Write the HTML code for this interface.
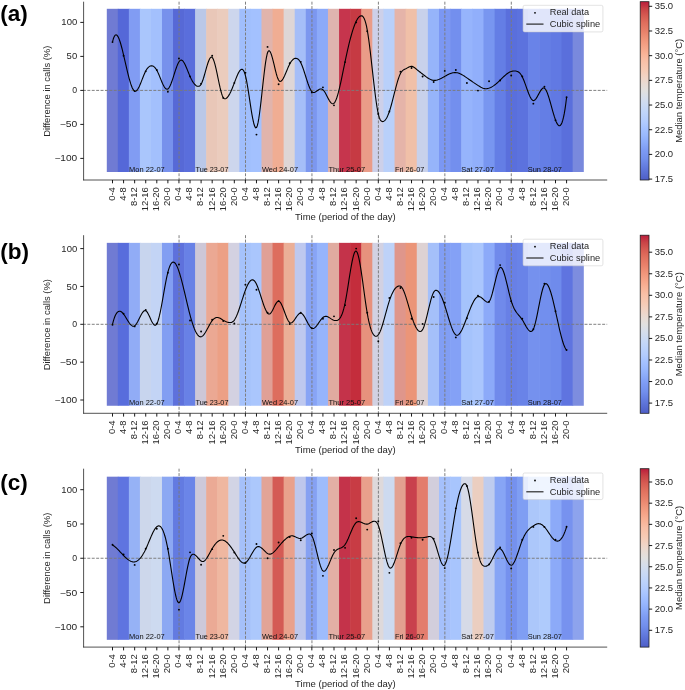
<!DOCTYPE html>
<html><head><meta charset="utf-8"><title>figure</title>
<style>
html,body{margin:0;padding:0;background:#fff;}
body{width:685px;height:690px;overflow:hidden;}
svg{display:block;font-family:'Liberation Sans', sans-serif;will-change:transform;}
</style></head><body>
<svg width="685" height="690" viewBox="0 0 685 690">
<rect width="685" height="690" fill="#fff"/>
<rect x="106.8" y="8.8" width="11.63" height="163.2" fill="#707bd3"/>
<rect x="117.83" y="8.8" width="11.63" height="163.2" fill="#5568d8"/>
<rect x="128.86" y="8.8" width="11.64" height="163.2" fill="#819cf3"/>
<rect x="139.9" y="8.8" width="11.64" height="163.2" fill="#aac6fc"/>
<rect x="150.94" y="8.8" width="11.64" height="163.2" fill="#a3c0fd"/>
<rect x="161.98" y="8.8" width="11.64" height="163.2" fill="#7791ec"/>
<rect x="173.02" y="8.8" width="11.65" height="163.2" fill="#5769d6"/>
<rect x="184.07" y="8.8" width="11.65" height="163.2" fill="#5a6edc"/>
<rect x="195.12" y="8.8" width="11.65" height="163.2" fill="#bac8e8"/>
<rect x="206.17" y="8.8" width="11.66" height="163.2" fill="#e9c7b8"/>
<rect x="217.23" y="8.8" width="11.66" height="163.2" fill="#ebccbd"/>
<rect x="228.29" y="8.8" width="11.66" height="163.2" fill="#cdd6ed"/>
<rect x="239.35" y="8.8" width="11.67" height="163.2" fill="#a0befc"/>
<rect x="250.42" y="8.8" width="11.67" height="163.2" fill="#a3c1fe"/>
<rect x="261.49" y="8.8" width="11.67" height="163.2" fill="#e1b4ac"/>
<rect x="272.56" y="8.8" width="11.67" height="163.2" fill="#f0ad93"/>
<rect x="283.63" y="8.8" width="11.68" height="163.2" fill="#ded6d6"/>
<rect x="294.71" y="8.8" width="11.68" height="163.2" fill="#a5bef8"/>
<rect x="305.79" y="8.8" width="11.68" height="163.2" fill="#7c97ef"/>
<rect x="316.88" y="8.8" width="11.69" height="163.2" fill="#8caaf9"/>
<rect x="327.96" y="8.8" width="11.69" height="163.2" fill="#dfb4af"/>
<rect x="339.05" y="8.8" width="11.69" height="163.2" fill="#c6354d"/>
<rect x="350.15" y="8.8" width="11.7" height="163.2" fill="#c63a43"/>
<rect x="361.24" y="8.8" width="11.7" height="163.2" fill="#ea9c88"/>
<rect x="372.34" y="8.8" width="11.7" height="163.2" fill="#cdd0e9"/>
<rect x="383.44" y="8.8" width="11.71" height="163.2" fill="#b9d0fa"/>
<rect x="394.55" y="8.8" width="11.71" height="163.2" fill="#e5b4a9"/>
<rect x="405.66" y="8.8" width="11.71" height="163.2" fill="#f0c0a8"/>
<rect x="416.77" y="8.8" width="11.71" height="163.2" fill="#c8d1eb"/>
<rect x="427.88" y="8.8" width="11.72" height="163.2" fill="#96b4fa"/>
<rect x="439" y="8.8" width="11.72" height="163.2" fill="#7b97f3"/>
<rect x="450.12" y="8.8" width="11.72" height="163.2" fill="#738fee"/>
<rect x="461.24" y="8.8" width="11.73" height="163.2" fill="#96b4fc"/>
<rect x="472.37" y="8.8" width="11.73" height="163.2" fill="#91affb"/>
<rect x="483.5" y="8.8" width="11.73" height="163.2" fill="#7896f0"/>
<rect x="494.63" y="8.8" width="11.74" height="163.2" fill="#647ee5"/>
<rect x="505.77" y="8.8" width="11.74" height="163.2" fill="#5a6fdc"/>
<rect x="516.9" y="8.8" width="11.74" height="163.2" fill="#5c72de"/>
<rect x="528.05" y="8.8" width="11.74" height="163.2" fill="#6983e8"/>
<rect x="539.19" y="8.8" width="11.75" height="163.2" fill="#647ee5"/>
<rect x="550.34" y="8.8" width="11.75" height="163.2" fill="#6179e3"/>
<rect x="561.49" y="8.8" width="11.75" height="163.2" fill="#5a6fdc"/>
<rect x="572.64" y="8.8" width="11.16" height="163.2" fill="#7989dd"/>
<g stroke="#7a7a7a" stroke-width="0.95" stroke-dasharray="2.95 1.45" fill="none">
<line x1="83.6" y1="90.4" x2="607.2" y2="90.4" stroke-dashoffset="0.65"/>
<line x1="179.05" y1="1.7" x2="179.05" y2="180"/>
<line x1="245.5" y1="1.7" x2="245.5" y2="180"/>
<line x1="311.95" y1="1.7" x2="311.95" y2="180"/>
<line x1="378.4" y1="1.7" x2="378.4" y2="180"/>
<line x1="444.85" y1="1.7" x2="444.85" y2="180"/>
<line x1="511.3" y1="1.7" x2="511.3" y2="180"/>
</g>
<path d="M112.5 41.85 L113.26 39.04 L114.02 37 L114.77 35.65 L115.53 34.96 L116.29 34.87 L117.05 35.34 L117.81 36.31 L118.56 37.74 L119.32 39.57 L120.08 41.76 L120.84 44.26 L121.6 47.01 L122.35 49.97 L123.11 53.08 L123.87 56.31 L124.63 59.59 L125.39 62.9 L126.14 66.2 L126.9 69.45 L127.66 72.61 L128.42 75.65 L129.18 78.53 L129.94 81.2 L130.69 83.64 L131.45 85.81 L132.21 87.67 L132.97 89.17 L133.73 90.29 L134.48 90.99 L135.24 91.23 L136 91.04 L136.76 90.47 L137.52 89.55 L138.27 88.35 L139.03 86.91 L139.79 85.27 L140.55 83.48 L141.31 81.59 L142.06 79.64 L142.82 77.69 L143.58 75.79 L144.34 73.97 L145.1 72.28 L145.85 70.78 L146.61 69.49 L147.37 68.42 L148.13 67.54 L148.89 66.86 L149.64 66.36 L150.4 66.03 L151.16 65.87 L151.92 65.86 L152.68 66.03 L153.43 66.37 L154.19 66.91 L154.95 67.63 L155.71 68.56 L156.47 69.7 L157.23 71.06 L157.98 72.62 L158.74 74.32 L159.5 76.13 L160.26 77.99 L161.02 79.86 L161.77 81.68 L162.53 83.42 L163.29 85.02 L164.05 86.43 L164.81 87.61 L165.56 88.51 L166.32 89.09 L167.08 89.29 L167.84 89.06 L168.6 88.38 L169.35 87.28 L170.11 85.83 L170.87 84.07 L171.63 82.07 L172.39 79.88 L173.14 77.56 L173.9 75.18 L174.66 72.79 L175.42 70.44 L176.18 68.2 L176.93 66.12 L177.69 64.27 L178.45 62.7 L179.21 61.46 L179.97 60.6 L180.72 60.15 L181.48 60.11 L182.24 60.47 L183 61.18 L183.76 62.21 L184.52 63.5 L185.27 65.01 L186.03 66.69 L186.79 68.48 L187.55 70.35 L188.31 72.25 L189.06 74.12 L189.82 75.93 L190.58 77.62 L191.34 79.18 L192.1 80.6 L192.85 81.88 L193.61 83 L194.37 83.98 L195.13 84.79 L195.89 85.44 L196.64 85.91 L197.4 86.21 L198.16 86.32 L198.92 86.24 L199.68 85.9 L200.43 85.22 L201.19 84.12 L201.95 82.55 L202.71 80.57 L203.47 78.28 L204.22 75.76 L204.98 73.1 L205.74 70.38 L206.5 67.7 L207.26 65.14 L208.01 62.78 L208.77 60.72 L209.53 59.04 L210.29 57.83 L211.05 57.18 L211.81 57.17 L212.56 57.88 L213.32 59.31 L214.08 61.36 L214.84 63.93 L215.6 66.92 L216.35 70.22 L217.11 73.74 L217.87 77.37 L218.63 81.01 L219.39 84.57 L220.14 87.94 L220.9 91.01 L221.66 93.7 L222.42 95.89 L223.18 97.49 L223.93 98.42 L224.69 98.79 L225.45 98.74 L226.21 98.4 L226.97 97.79 L227.72 96.96 L228.48 95.9 L229.24 94.65 L230 93.24 L230.76 91.67 L231.51 89.97 L232.27 88.17 L233.03 86.28 L233.79 84.33 L234.55 82.33 L235.3 80.33 L236.06 78.36 L236.82 76.47 L237.58 74.7 L238.34 73.11 L239.1 71.73 L239.85 70.62 L240.61 69.81 L241.37 69.36 L242.13 69.32 L242.89 69.74 L243.64 70.71 L244.4 72.29 L245.16 74.56 L245.92 77.59 L246.68 81.3 L247.43 85.55 L248.19 90.21 L248.95 95.13 L249.71 100.18 L250.47 105.2 L251.22 110.06 L251.98 114.61 L252.74 118.72 L253.5 122.24 L254.26 125.03 L255.01 126.94 L255.77 127.84 L256.53 127.52 L257.29 125.75 L258.05 122.64 L258.8 118.4 L259.56 113.22 L260.32 107.3 L261.08 100.85 L261.84 94.06 L262.59 87.14 L263.35 80.29 L264.11 73.7 L264.87 67.58 L265.63 62.13 L266.39 57.55 L267.14 54.03 L267.9 51.78 L268.66 50.8 L269.42 50.86 L270.18 51.77 L270.93 53.37 L271.69 55.54 L272.45 58.15 L273.21 61.08 L273.97 64.2 L274.72 67.39 L275.48 70.52 L276.24 73.48 L277 76.13 L277.76 78.34 L278.51 80.01 L279.27 81.02 L280.03 81.42 L280.79 81.3 L281.55 80.78 L282.3 79.92 L283.06 78.77 L283.82 77.38 L284.58 75.8 L285.34 74.09 L286.09 72.29 L286.85 70.44 L287.61 68.61 L288.37 66.84 L289.13 65.17 L289.88 63.67 L290.64 62.35 L291.4 61.23 L292.16 60.29 L292.92 59.54 L293.68 58.98 L294.43 58.59 L295.19 58.38 L295.95 58.34 L296.71 58.48 L297.47 58.79 L298.22 59.29 L298.98 60.01 L299.74 60.97 L300.5 62.2 L301.26 63.72 L302.01 65.5 L302.77 67.5 L303.53 69.68 L304.29 71.98 L305.05 74.36 L305.8 76.78 L306.56 79.18 L307.32 81.51 L308.08 83.74 L308.84 85.81 L309.59 87.67 L310.35 89.29 L311.11 90.6 L311.87 91.58 L312.63 92.17 L313.38 92.44 L314.14 92.43 L314.9 92.2 L315.66 91.8 L316.42 91.3 L317.17 90.76 L317.93 90.22 L318.69 89.73 L319.45 89.33 L320.21 89.06 L320.97 88.96 L321.72 89.05 L322.48 89.39 L323.24 90.01 L324 90.91 L324.76 92.02 L325.51 93.32 L326.27 94.72 L327.03 96.2 L327.79 97.68 L328.55 99.12 L329.3 100.46 L330.06 101.65 L330.82 102.63 L331.58 103.36 L332.34 103.77 L333.09 103.82 L333.85 103.45 L334.61 102.61 L335.37 101.31 L336.13 99.6 L336.88 97.52 L337.64 95.1 L338.4 92.38 L339.16 89.4 L339.92 86.2 L340.67 82.81 L341.43 79.29 L342.19 75.66 L342.95 71.96 L343.71 68.23 L344.46 64.52 L345.22 60.86 L345.98 57.28 L346.74 53.79 L347.5 50.4 L348.26 47.11 L349.01 43.95 L349.77 40.9 L350.53 37.99 L351.29 35.23 L352.05 32.61 L352.8 30.15 L353.56 27.85 L354.32 25.73 L355.08 23.79 L355.84 22.05 L356.59 20.5 L357.35 19.16 L358.11 18.02 L358.87 17.11 L359.63 16.42 L360.38 15.95 L361.14 15.73 L361.9 15.83 L362.66 16.28 L363.42 17.15 L364.17 18.5 L364.93 20.38 L365.69 22.85 L366.45 25.96 L367.21 29.78 L367.96 34.33 L368.72 39.53 L369.48 45.26 L370.24 51.43 L371 57.9 L371.75 64.58 L372.51 71.34 L373.27 78.07 L374.03 84.67 L374.79 91.02 L375.55 97.01 L376.3 102.52 L377.06 107.44 L377.82 111.66 L378.58 115.08 L379.34 117.65 L380.09 119.48 L380.85 120.68 L381.61 121.34 L382.37 121.58 L383.13 121.5 L383.88 121.17 L384.64 120.6 L385.4 119.79 L386.16 118.73 L386.92 117.42 L387.67 115.87 L388.43 114.07 L389.19 112.02 L389.95 109.72 L390.71 107.2 L391.46 104.49 L392.22 101.66 L392.98 98.72 L393.74 95.73 L394.5 92.73 L395.25 89.76 L396.01 86.87 L396.77 84.08 L397.53 81.45 L398.29 79.02 L399.04 76.83 L399.8 74.91 L400.56 73.33 L401.32 72.08 L402.08 71.12 L402.84 70.39 L403.59 69.85 L404.35 69.42 L405.11 69.06 L405.87 68.7 L406.63 68.3 L407.38 67.86 L408.14 67.42 L408.9 67.01 L409.66 66.67 L410.42 66.43 L411.17 66.32 L411.93 66.38 L412.69 66.6 L413.45 66.96 L414.21 67.43 L414.96 67.98 L415.72 68.59 L416.48 69.23 L417.24 69.88 L418 70.5 L418.75 71.11 L419.51 71.71 L420.27 72.29 L421.03 72.88 L421.79 73.46 L422.54 74.04 L423.3 74.62 L424.06 75.21 L424.82 75.79 L425.58 76.36 L426.33 76.91 L427.09 77.44 L427.85 77.94 L428.61 78.42 L429.37 78.85 L430.13 79.24 L430.88 79.58 L431.64 79.87 L432.4 80.1 L433.16 80.26 L433.92 80.36 L434.67 80.38 L435.43 80.34 L436.19 80.23 L436.95 80.07 L437.71 79.85 L438.46 79.59 L439.22 79.3 L439.98 78.96 L440.74 78.6 L441.5 78.21 L442.25 77.8 L443.01 77.38 L443.77 76.95 L444.53 76.52 L445.29 76.09 L446.04 75.66 L446.8 75.25 L447.56 74.85 L448.32 74.47 L449.08 74.12 L449.83 73.79 L450.59 73.49 L451.35 73.22 L452.11 73 L452.87 72.81 L453.62 72.68 L454.38 72.59 L455.14 72.56 L455.9 72.59 L456.66 72.68 L457.42 72.83 L458.17 73.03 L458.93 73.28 L459.69 73.58 L460.45 73.92 L461.21 74.29 L461.96 74.7 L462.72 75.14 L463.48 75.6 L464.24 76.08 L465 76.59 L465.75 77.1 L466.51 77.62 L467.27 78.14 L468.03 78.67 L468.79 79.2 L469.54 79.73 L470.3 80.26 L471.06 80.79 L471.82 81.31 L472.58 81.83 L473.33 82.36 L474.09 82.87 L474.85 83.38 L475.61 83.89 L476.37 84.39 L477.12 84.89 L477.88 85.38 L478.64 85.86 L479.4 86.32 L480.16 86.77 L480.91 87.18 L481.67 87.56 L482.43 87.9 L483.19 88.19 L483.95 88.42 L484.71 88.59 L485.46 88.68 L486.22 88.7 L486.98 88.65 L487.74 88.52 L488.5 88.33 L489.25 88.08 L490.01 87.79 L490.77 87.44 L491.53 87.05 L492.29 86.61 L493.04 86.14 L493.8 85.62 L494.56 85.07 L495.32 84.49 L496.08 83.88 L496.83 83.24 L497.59 82.57 L498.35 81.88 L499.11 81.18 L499.87 80.45 L500.62 79.71 L501.38 78.96 L502.14 78.21 L502.9 77.47 L503.66 76.73 L504.41 76.01 L505.17 75.32 L505.93 74.66 L506.69 74.03 L507.45 73.45 L508.2 72.91 L508.96 72.44 L509.72 72.02 L510.48 71.68 L511.24 71.42 L512 71.23 L512.75 71.11 L513.51 71.04 L514.27 71 L515.03 70.99 L515.79 71.05 L516.54 71.19 L517.3 71.42 L518.06 71.77 L518.82 72.26 L519.58 72.91 L520.33 73.74 L521.09 74.76 L521.85 76 L522.61 77.48 L523.37 79.18 L524.12 81.06 L524.88 83.08 L525.64 85.18 L526.4 87.32 L527.16 89.45 L527.91 91.52 L528.67 93.5 L529.43 95.33 L530.19 96.96 L530.95 98.34 L531.7 99.44 L532.46 100.2 L533.22 100.58 L533.98 100.53 L534.74 100.1 L535.49 99.35 L536.25 98.34 L537.01 97.13 L537.77 95.79 L538.53 94.38 L539.29 92.96 L540.04 91.61 L540.8 90.38 L541.56 89.33 L542.32 88.53 L543.08 88.05 L543.83 87.94 L544.59 88.27 L545.35 89.07 L546.11 90.3 L546.87 91.9 L547.62 93.82 L548.38 96.01 L549.14 98.42 L549.9 100.99 L550.66 103.67 L551.41 106.41 L552.17 109.16 L552.93 111.86 L553.69 114.46 L554.45 116.92 L555.2 119.17 L555.96 121.16 L556.72 122.86 L557.48 124.2 L558.24 125.16 L558.99 125.68 L559.75 125.72 L560.51 125.23 L561.27 124.18 L562.03 122.52 L562.78 120.2 L563.54 117.18 L564.3 113.41 L565.06 108.85 L565.82 103.47 L566.58 97.2" fill="none" stroke="#000" stroke-width="1.1" stroke-linejoin="round" stroke-linecap="butt"/>
<g fill="#000">
<circle cx="112.5" cy="42.12" r="0.95"/>
<circle cx="123.58" cy="55.72" r="0.95"/>
<circle cx="134.65" cy="91.08" r="0.95"/>
<circle cx="145.72" cy="71.36" r="0.95"/>
<circle cx="156.8" cy="70" r="0.95"/>
<circle cx="167.88" cy="91.76" r="0.95"/>
<circle cx="178.95" cy="58.44" r="0.95"/>
<circle cx="190.02" cy="76.39" r="0.95"/>
<circle cx="201.1" cy="83.6" r="0.95"/>
<circle cx="212.18" cy="55.72" r="0.95"/>
<circle cx="223.25" cy="97.88" r="0.95"/>
<circle cx="234.32" cy="82.92" r="0.95"/>
<circle cx="245.4" cy="72.72" r="0.95"/>
<circle cx="256.48" cy="134.6" r="0.95"/>
<circle cx="267.55" cy="46.88" r="0.95"/>
<circle cx="278.62" cy="84.28" r="0.95"/>
<circle cx="289.7" cy="63.2" r="0.95"/>
<circle cx="300.77" cy="61.84" r="0.95"/>
<circle cx="311.85" cy="92.44" r="0.95"/>
<circle cx="322.92" cy="87.34" r="0.95"/>
<circle cx="334" cy="105.36" r="0.95"/>
<circle cx="345.07" cy="62.11" r="0.95"/>
<circle cx="356.15" cy="22.4" r="0.95"/>
<circle cx="367.23" cy="31.24" r="0.95"/>
<circle cx="378.3" cy="113.93" r="0.95"/>
<circle cx="389.38" cy="111.48" r="0.95"/>
<circle cx="400.45" cy="71.63" r="0.95"/>
<circle cx="411.52" cy="67.96" r="0.95"/>
<circle cx="422.6" cy="76.53" r="0.95"/>
<circle cx="433.67" cy="82.04" r="0.95"/>
<circle cx="444.75" cy="70.88" r="0.95"/>
<circle cx="455.82" cy="70.07" r="0.95"/>
<circle cx="466.9" cy="82.99" r="0.95"/>
<circle cx="477.97" cy="90.6" r="0.95"/>
<circle cx="489.05" cy="81.29" r="0.95"/>
<circle cx="500.12" cy="80.54" r="0.95"/>
<circle cx="511.2" cy="75.44" r="0.95"/>
<circle cx="522.27" cy="76.39" r="0.95"/>
<circle cx="533.35" cy="103.66" r="0.95"/>
<circle cx="544.42" cy="86.8" r="0.95"/>
<circle cx="555.5" cy="120.32" r="0.95"/>
<circle cx="566.58" cy="97.2" r="0.95"/>
</g>
<text x="129.11" y="171.5" font-size="7" fill="#111" text-anchor="start" textLength="35.56" lengthAdjust="spacingAndGlyphs">Mon 22-07</text>
<text x="195.56" y="171.5" font-size="7" fill="#111" text-anchor="start" textLength="32.89" lengthAdjust="spacingAndGlyphs">Tue 23-07</text>
<text x="262.01" y="171.5" font-size="7" fill="#111" text-anchor="start" textLength="36.04" lengthAdjust="spacingAndGlyphs">Wed 24-07</text>
<text x="328.46" y="171.5" font-size="7" fill="#111" text-anchor="start" textLength="36.77" lengthAdjust="spacingAndGlyphs">Thur 25-07</text>
<text x="394.91" y="171.5" font-size="7" fill="#111" text-anchor="start" textLength="29.45" lengthAdjust="spacingAndGlyphs">Fri 26-07</text>
<text x="461.36" y="171.5" font-size="7" fill="#111" text-anchor="start" textLength="32.44" lengthAdjust="spacingAndGlyphs">Sat 27-07</text>
<text x="527.81" y="171.5" font-size="7" fill="#111" text-anchor="start" textLength="34.19" lengthAdjust="spacingAndGlyphs">Sun 28-07</text>
<g stroke="#1a1a1a" stroke-width="0.75" fill="none">
<line x1="83.6" y1="1.7" x2="83.6" y2="180.35"/>
<line x1="83.25" y1="180" x2="607.2" y2="180"/>
</g>
<g stroke="#000" stroke-width="0.9" fill="none">
<line x1="80.3" y1="158.4" x2="83.6" y2="158.4"/>
<line x1="80.3" y1="124.4" x2="83.6" y2="124.4"/>
<line x1="80.3" y1="90.4" x2="83.6" y2="90.4"/>
<line x1="80.3" y1="56.4" x2="83.6" y2="56.4"/>
<line x1="80.3" y1="22.4" x2="83.6" y2="22.4"/>
<line x1="112.5" y1="180" x2="112.5" y2="183.3"/>
<line x1="123.58" y1="180" x2="123.58" y2="183.3"/>
<line x1="134.65" y1="180" x2="134.65" y2="183.3"/>
<line x1="145.72" y1="180" x2="145.72" y2="183.3"/>
<line x1="156.8" y1="180" x2="156.8" y2="183.3"/>
<line x1="167.88" y1="180" x2="167.88" y2="183.3"/>
<line x1="178.95" y1="180" x2="178.95" y2="183.3"/>
<line x1="190.02" y1="180" x2="190.02" y2="183.3"/>
<line x1="201.1" y1="180" x2="201.1" y2="183.3"/>
<line x1="212.18" y1="180" x2="212.18" y2="183.3"/>
<line x1="223.25" y1="180" x2="223.25" y2="183.3"/>
<line x1="234.32" y1="180" x2="234.32" y2="183.3"/>
<line x1="245.4" y1="180" x2="245.4" y2="183.3"/>
<line x1="256.48" y1="180" x2="256.48" y2="183.3"/>
<line x1="267.55" y1="180" x2="267.55" y2="183.3"/>
<line x1="278.62" y1="180" x2="278.62" y2="183.3"/>
<line x1="289.7" y1="180" x2="289.7" y2="183.3"/>
<line x1="300.77" y1="180" x2="300.77" y2="183.3"/>
<line x1="311.85" y1="180" x2="311.85" y2="183.3"/>
<line x1="322.92" y1="180" x2="322.92" y2="183.3"/>
<line x1="334" y1="180" x2="334" y2="183.3"/>
<line x1="345.07" y1="180" x2="345.07" y2="183.3"/>
<line x1="356.15" y1="180" x2="356.15" y2="183.3"/>
<line x1="367.23" y1="180" x2="367.23" y2="183.3"/>
<line x1="378.3" y1="180" x2="378.3" y2="183.3"/>
<line x1="389.38" y1="180" x2="389.38" y2="183.3"/>
<line x1="400.45" y1="180" x2="400.45" y2="183.3"/>
<line x1="411.52" y1="180" x2="411.52" y2="183.3"/>
<line x1="422.6" y1="180" x2="422.6" y2="183.3"/>
<line x1="433.67" y1="180" x2="433.67" y2="183.3"/>
<line x1="444.75" y1="180" x2="444.75" y2="183.3"/>
<line x1="455.82" y1="180" x2="455.82" y2="183.3"/>
<line x1="466.9" y1="180" x2="466.9" y2="183.3"/>
<line x1="477.97" y1="180" x2="477.97" y2="183.3"/>
<line x1="489.05" y1="180" x2="489.05" y2="183.3"/>
<line x1="500.12" y1="180" x2="500.12" y2="183.3"/>
<line x1="511.2" y1="180" x2="511.2" y2="183.3"/>
<line x1="522.27" y1="180" x2="522.27" y2="183.3"/>
<line x1="533.35" y1="180" x2="533.35" y2="183.3"/>
<line x1="544.42" y1="180" x2="544.42" y2="183.3"/>
<line x1="555.5" y1="180" x2="555.5" y2="183.3"/>
<line x1="566.58" y1="180" x2="566.58" y2="183.3"/>
</g>
<text x="77.2" y="161.45" font-size="8.72" fill="#262626" text-anchor="end" textLength="22.8" lengthAdjust="spacingAndGlyphs">−100</text>
<text x="77.2" y="127.45" font-size="8.72" fill="#262626" text-anchor="end" textLength="17.52" lengthAdjust="spacingAndGlyphs">−50</text>
<text x="77.2" y="93.45" font-size="8.72" fill="#262626" text-anchor="end">0</text>
<text x="77.2" y="59.45" font-size="8.72" fill="#262626" text-anchor="end" textLength="10.56" lengthAdjust="spacingAndGlyphs">50</text>
<text x="77.2" y="25.45" font-size="8.72" fill="#262626" text-anchor="end" textLength="15.84" lengthAdjust="spacingAndGlyphs">100</text>
<text transform="translate(114.85 187.2) rotate(-90)" font-size="8.72" fill="#262626" text-anchor="end" textLength="13.56" lengthAdjust="spacingAndGlyphs">0-4</text>
<text transform="translate(125.92 187.2) rotate(-90)" font-size="8.72" fill="#262626" text-anchor="end" textLength="13.56" lengthAdjust="spacingAndGlyphs">4-8</text>
<text transform="translate(137 187.2) rotate(-90)" font-size="8.72" fill="#262626" text-anchor="end" textLength="18.84" lengthAdjust="spacingAndGlyphs">8-12</text>
<text transform="translate(148.07 187.2) rotate(-90)" font-size="8.72" fill="#262626" text-anchor="end" textLength="24.12" lengthAdjust="spacingAndGlyphs">12-16</text>
<text transform="translate(159.15 187.2) rotate(-90)" font-size="8.72" fill="#262626" text-anchor="end" textLength="24.12" lengthAdjust="spacingAndGlyphs">16-20</text>
<text transform="translate(170.22 187.2) rotate(-90)" font-size="8.72" fill="#262626" text-anchor="end" textLength="18.84" lengthAdjust="spacingAndGlyphs">20-0</text>
<text transform="translate(181.3 187.2) rotate(-90)" font-size="8.72" fill="#262626" text-anchor="end" textLength="13.56" lengthAdjust="spacingAndGlyphs">0-4</text>
<text transform="translate(192.37 187.2) rotate(-90)" font-size="8.72" fill="#262626" text-anchor="end" textLength="13.56" lengthAdjust="spacingAndGlyphs">4-8</text>
<text transform="translate(203.45 187.2) rotate(-90)" font-size="8.72" fill="#262626" text-anchor="end" textLength="18.84" lengthAdjust="spacingAndGlyphs">8-12</text>
<text transform="translate(214.53 187.2) rotate(-90)" font-size="8.72" fill="#262626" text-anchor="end" textLength="24.12" lengthAdjust="spacingAndGlyphs">12-16</text>
<text transform="translate(225.6 187.2) rotate(-90)" font-size="8.72" fill="#262626" text-anchor="end" textLength="24.12" lengthAdjust="spacingAndGlyphs">16-20</text>
<text transform="translate(236.67 187.2) rotate(-90)" font-size="8.72" fill="#262626" text-anchor="end" textLength="18.84" lengthAdjust="spacingAndGlyphs">20-0</text>
<text transform="translate(247.75 187.2) rotate(-90)" font-size="8.72" fill="#262626" text-anchor="end" textLength="13.56" lengthAdjust="spacingAndGlyphs">0-4</text>
<text transform="translate(258.83 187.2) rotate(-90)" font-size="8.72" fill="#262626" text-anchor="end" textLength="13.56" lengthAdjust="spacingAndGlyphs">4-8</text>
<text transform="translate(269.9 187.2) rotate(-90)" font-size="8.72" fill="#262626" text-anchor="end" textLength="18.84" lengthAdjust="spacingAndGlyphs">8-12</text>
<text transform="translate(280.98 187.2) rotate(-90)" font-size="8.72" fill="#262626" text-anchor="end" textLength="24.12" lengthAdjust="spacingAndGlyphs">12-16</text>
<text transform="translate(292.05 187.2) rotate(-90)" font-size="8.72" fill="#262626" text-anchor="end" textLength="24.12" lengthAdjust="spacingAndGlyphs">16-20</text>
<text transform="translate(303.12 187.2) rotate(-90)" font-size="8.72" fill="#262626" text-anchor="end" textLength="18.84" lengthAdjust="spacingAndGlyphs">20-0</text>
<text transform="translate(314.2 187.2) rotate(-90)" font-size="8.72" fill="#262626" text-anchor="end" textLength="13.56" lengthAdjust="spacingAndGlyphs">0-4</text>
<text transform="translate(325.27 187.2) rotate(-90)" font-size="8.72" fill="#262626" text-anchor="end" textLength="13.56" lengthAdjust="spacingAndGlyphs">4-8</text>
<text transform="translate(336.35 187.2) rotate(-90)" font-size="8.72" fill="#262626" text-anchor="end" textLength="18.84" lengthAdjust="spacingAndGlyphs">8-12</text>
<text transform="translate(347.43 187.2) rotate(-90)" font-size="8.72" fill="#262626" text-anchor="end" textLength="24.12" lengthAdjust="spacingAndGlyphs">12-16</text>
<text transform="translate(358.5 187.2) rotate(-90)" font-size="8.72" fill="#262626" text-anchor="end" textLength="24.12" lengthAdjust="spacingAndGlyphs">16-20</text>
<text transform="translate(369.58 187.2) rotate(-90)" font-size="8.72" fill="#262626" text-anchor="end" textLength="18.84" lengthAdjust="spacingAndGlyphs">20-0</text>
<text transform="translate(380.65 187.2) rotate(-90)" font-size="8.72" fill="#262626" text-anchor="end" textLength="13.56" lengthAdjust="spacingAndGlyphs">0-4</text>
<text transform="translate(391.73 187.2) rotate(-90)" font-size="8.72" fill="#262626" text-anchor="end" textLength="13.56" lengthAdjust="spacingAndGlyphs">4-8</text>
<text transform="translate(402.8 187.2) rotate(-90)" font-size="8.72" fill="#262626" text-anchor="end" textLength="18.84" lengthAdjust="spacingAndGlyphs">8-12</text>
<text transform="translate(413.88 187.2) rotate(-90)" font-size="8.72" fill="#262626" text-anchor="end" textLength="24.12" lengthAdjust="spacingAndGlyphs">12-16</text>
<text transform="translate(424.95 187.2) rotate(-90)" font-size="8.72" fill="#262626" text-anchor="end" textLength="24.12" lengthAdjust="spacingAndGlyphs">16-20</text>
<text transform="translate(436.02 187.2) rotate(-90)" font-size="8.72" fill="#262626" text-anchor="end" textLength="18.84" lengthAdjust="spacingAndGlyphs">20-0</text>
<text transform="translate(447.1 187.2) rotate(-90)" font-size="8.72" fill="#262626" text-anchor="end" textLength="13.56" lengthAdjust="spacingAndGlyphs">0-4</text>
<text transform="translate(458.18 187.2) rotate(-90)" font-size="8.72" fill="#262626" text-anchor="end" textLength="13.56" lengthAdjust="spacingAndGlyphs">4-8</text>
<text transform="translate(469.25 187.2) rotate(-90)" font-size="8.72" fill="#262626" text-anchor="end" textLength="18.84" lengthAdjust="spacingAndGlyphs">8-12</text>
<text transform="translate(480.32 187.2) rotate(-90)" font-size="8.72" fill="#262626" text-anchor="end" textLength="24.12" lengthAdjust="spacingAndGlyphs">12-16</text>
<text transform="translate(491.4 187.2) rotate(-90)" font-size="8.72" fill="#262626" text-anchor="end" textLength="24.12" lengthAdjust="spacingAndGlyphs">16-20</text>
<text transform="translate(502.48 187.2) rotate(-90)" font-size="8.72" fill="#262626" text-anchor="end" textLength="18.84" lengthAdjust="spacingAndGlyphs">20-0</text>
<text transform="translate(513.55 187.2) rotate(-90)" font-size="8.72" fill="#262626" text-anchor="end" textLength="13.56" lengthAdjust="spacingAndGlyphs">0-4</text>
<text transform="translate(524.62 187.2) rotate(-90)" font-size="8.72" fill="#262626" text-anchor="end" textLength="13.56" lengthAdjust="spacingAndGlyphs">4-8</text>
<text transform="translate(535.7 187.2) rotate(-90)" font-size="8.72" fill="#262626" text-anchor="end" textLength="18.84" lengthAdjust="spacingAndGlyphs">8-12</text>
<text transform="translate(546.77 187.2) rotate(-90)" font-size="8.72" fill="#262626" text-anchor="end" textLength="24.12" lengthAdjust="spacingAndGlyphs">12-16</text>
<text transform="translate(557.85 187.2) rotate(-90)" font-size="8.72" fill="#262626" text-anchor="end" textLength="24.12" lengthAdjust="spacingAndGlyphs">16-20</text>
<text transform="translate(568.93 187.2) rotate(-90)" font-size="8.72" fill="#262626" text-anchor="end" textLength="18.84" lengthAdjust="spacingAndGlyphs">20-0</text>
<text x="345.4" y="219.8" font-size="8.72" fill="#262626" text-anchor="middle" textLength="100.67" lengthAdjust="spacingAndGlyphs">Time (period of the day)</text>
<text transform="translate(49.9 91.25) rotate(-90)" font-size="8.72" fill="#262626" text-anchor="middle" textLength="91.22" lengthAdjust="spacingAndGlyphs">Difference in calls (%)</text>
<rect x="523.1" y="5.3" width="79.8" height="26.6" rx="1.6" ry="1.6" fill="#fff" fill-opacity="0.8" stroke="#cccccc" stroke-opacity="0.8" stroke-width="0.7"/>
<circle cx="535" cy="12.8" r="0.9" fill="#000"/>
<line x1="526.3" y1="24.1" x2="543.5" y2="24.1" stroke="#222" stroke-width="1.15"/>
<text x="549.8" y="15.3" font-size="8.72" fill="#262626" text-anchor="start" textLength="39.23" lengthAdjust="spacingAndGlyphs">Real data</text>
<text x="549.8" y="27" font-size="8.72" fill="#262626" text-anchor="start" textLength="50.4" lengthAdjust="spacingAndGlyphs">Cubic spline</text>
<defs><linearGradient id="ga" x1="0" y1="1" x2="0" y2="0"><stop offset="0" stop-color="#4e5ec6"/><stop offset="0.04" stop-color="#596ed4"/><stop offset="0.08" stop-color="#657ee1"/><stop offset="0.12" stop-color="#728fec"/><stop offset="0.17" stop-color="#7e9cf4"/><stop offset="0.21" stop-color="#8babfa"/><stop offset="0.25" stop-color="#99b8fe"/><stop offset="0.29" stop-color="#a5c2ff"/><stop offset="0.33" stop-color="#b3ccfd"/><stop offset="0.38" stop-color="#c0d5f9"/><stop offset="0.42" stop-color="#cbdaf3"/><stop offset="0.46" stop-color="#d6deeb"/><stop offset="0.5" stop-color="#e1e0df"/><stop offset="0.54" stop-color="#e9dbd3"/><stop offset="0.58" stop-color="#f1d3c4"/><stop offset="0.62" stop-color="#f6cab4"/><stop offset="0.67" stop-color="#f8bfa6"/><stop offset="0.71" stop-color="#f8b296"/><stop offset="0.75" stop-color="#f5a387"/><stop offset="0.79" stop-color="#f09479"/><stop offset="0.83" stop-color="#e9826b"/><stop offset="0.88" stop-color="#e06f5d"/><stop offset="0.92" stop-color="#d65b52"/><stop offset="0.96" stop-color="#c94346"/><stop offset="1" stop-color="#bb1d3c"/></linearGradient></defs>
<rect x="640.2" y="1.7" width="8.8" height="178.3" fill="url(#ga)" stroke="#1a1a1a" stroke-width="0.75"/>
<g stroke="#000" stroke-width="0.9">
<line x1="649" y1="179.1" x2="652.2" y2="179.1"/>
<line x1="649" y1="154.41" x2="652.2" y2="154.41"/>
<line x1="649" y1="129.73" x2="652.2" y2="129.73"/>
<line x1="649" y1="105.04" x2="652.2" y2="105.04"/>
<line x1="649" y1="80.36" x2="652.2" y2="80.36"/>
<line x1="649" y1="55.67" x2="652.2" y2="55.67"/>
<line x1="649" y1="30.99" x2="652.2" y2="30.99"/>
<line x1="649" y1="6.3" x2="652.2" y2="6.3"/>
</g>
<text x="654.7" y="182.15" font-size="8.72" fill="#262626" text-anchor="start" textLength="18.48" lengthAdjust="spacingAndGlyphs">17.5</text>
<text x="654.7" y="157.46" font-size="8.72" fill="#262626" text-anchor="start" textLength="18.48" lengthAdjust="spacingAndGlyphs">20.0</text>
<text x="654.7" y="132.78" font-size="8.72" fill="#262626" text-anchor="start" textLength="18.48" lengthAdjust="spacingAndGlyphs">22.5</text>
<text x="654.7" y="108.09" font-size="8.72" fill="#262626" text-anchor="start" textLength="18.48" lengthAdjust="spacingAndGlyphs">25.0</text>
<text x="654.7" y="83.41" font-size="8.72" fill="#262626" text-anchor="start" textLength="18.48" lengthAdjust="spacingAndGlyphs">27.5</text>
<text x="654.7" y="58.72" font-size="8.72" fill="#262626" text-anchor="start" textLength="18.48" lengthAdjust="spacingAndGlyphs">30.0</text>
<text x="654.7" y="34.04" font-size="8.72" fill="#262626" text-anchor="start" textLength="18.48" lengthAdjust="spacingAndGlyphs">32.5</text>
<text x="654.7" y="9.35" font-size="8.72" fill="#262626" text-anchor="start" textLength="18.48" lengthAdjust="spacingAndGlyphs">35.0</text>
<text transform="translate(682.2 90.85) rotate(-90)" font-size="8.72" fill="#262626" text-anchor="middle" textLength="104.06" lengthAdjust="spacingAndGlyphs">Median temperature (°C)</text>
<text font-size="22.5" font-weight="bold" fill="#000" x="0.2" y="21">(a)</text>
<rect x="106.8" y="242.85" width="11.63" height="162.91" fill="#707bd3"/>
<rect x="117.83" y="242.85" width="11.63" height="162.91" fill="#586ddc"/>
<rect x="128.86" y="242.85" width="11.64" height="162.91" fill="#91acf6"/>
<rect x="139.9" y="242.85" width="11.64" height="162.91" fill="#c8d5ee"/>
<rect x="150.94" y="242.85" width="11.64" height="162.91" fill="#c3d4f5"/>
<rect x="161.98" y="242.85" width="11.64" height="162.91" fill="#829ef2"/>
<rect x="173.02" y="242.85" width="11.65" height="162.91" fill="#5e71dc"/>
<rect x="184.07" y="242.85" width="11.65" height="162.91" fill="#6881e6"/>
<rect x="195.12" y="242.85" width="11.65" height="162.91" fill="#cdc7d7"/>
<rect x="206.17" y="242.85" width="11.66" height="162.91" fill="#eba893"/>
<rect x="217.23" y="242.85" width="11.66" height="162.91" fill="#eca085"/>
<rect x="228.29" y="242.85" width="11.66" height="162.91" fill="#d3d1e1"/>
<rect x="239.35" y="242.85" width="11.67" height="162.91" fill="#a5c2fb"/>
<rect x="250.42" y="242.85" width="11.67" height="162.91" fill="#aac6fd"/>
<rect x="261.49" y="242.85" width="11.67" height="162.91" fill="#e0a096"/>
<rect x="272.56" y="242.85" width="11.67" height="162.91" fill="#dd6e5e"/>
<rect x="283.63" y="242.85" width="11.68" height="162.91" fill="#ebaf97"/>
<rect x="294.71" y="242.85" width="11.68" height="162.91" fill="#bec8ef"/>
<rect x="305.79" y="242.85" width="11.68" height="162.91" fill="#88a4f5"/>
<rect x="316.88" y="242.85" width="11.69" height="162.91" fill="#96b4fb"/>
<rect x="327.96" y="242.85" width="11.69" height="162.91" fill="#e0aba0"/>
<rect x="339.05" y="242.85" width="11.69" height="162.91" fill="#c4334a"/>
<rect x="350.15" y="242.85" width="11.7" height="162.91" fill="#c42d3c"/>
<rect x="361.24" y="242.85" width="11.7" height="162.91" fill="#e7917d"/>
<rect x="372.34" y="242.85" width="11.7" height="162.91" fill="#d2d1e2"/>
<rect x="383.44" y="242.85" width="11.71" height="162.91" fill="#bed2f8"/>
<rect x="394.55" y="242.85" width="11.71" height="162.91" fill="#df968b"/>
<rect x="405.66" y="242.85" width="11.71" height="162.91" fill="#eb9578"/>
<rect x="416.77" y="242.85" width="11.71" height="162.91" fill="#ded2d3"/>
<rect x="427.88" y="242.85" width="11.72" height="162.91" fill="#a5c0fa"/>
<rect x="439" y="242.85" width="11.72" height="162.91" fill="#819ef4"/>
<rect x="450.12" y="242.85" width="11.72" height="162.91" fill="#84a1f6"/>
<rect x="461.24" y="242.85" width="11.73" height="162.91" fill="#a5c3fc"/>
<rect x="472.37" y="242.85" width="11.73" height="162.91" fill="#aac6fd"/>
<rect x="483.5" y="242.85" width="11.73" height="162.91" fill="#8caaf9"/>
<rect x="494.63" y="242.85" width="11.74" height="162.91" fill="#708aeb"/>
<rect x="505.77" y="242.85" width="11.74" height="162.91" fill="#6880e6"/>
<rect x="516.9" y="242.85" width="11.74" height="162.91" fill="#6983e8"/>
<rect x="528.05" y="242.85" width="11.74" height="162.91" fill="#7591ee"/>
<rect x="539.19" y="242.85" width="11.75" height="162.91" fill="#728fee"/>
<rect x="550.34" y="242.85" width="11.75" height="162.91" fill="#6f8bec"/>
<rect x="561.49" y="242.85" width="11.75" height="162.91" fill="#5f74e0"/>
<rect x="572.64" y="242.85" width="11.16" height="162.91" fill="#7d8ddf"/>
<g stroke="#7a7a7a" stroke-width="0.95" stroke-dasharray="2.95 1.45" fill="none">
<line x1="83.6" y1="324.3" x2="607.2" y2="324.3" stroke-dashoffset="0.65"/>
<line x1="179.05" y1="235.2" x2="179.05" y2="413.3"/>
<line x1="245.5" y1="235.2" x2="245.5" y2="413.3"/>
<line x1="311.95" y1="235.2" x2="311.95" y2="413.3"/>
<line x1="378.4" y1="235.2" x2="378.4" y2="413.3"/>
<line x1="444.85" y1="235.2" x2="444.85" y2="413.3"/>
<line x1="511.3" y1="235.2" x2="511.3" y2="413.3"/>
</g>
<path d="M112.5 324.3 L113.26 321.4 L114.02 318.9 L114.77 316.8 L115.53 315.07 L116.29 313.68 L117.05 312.62 L117.81 311.87 L118.56 311.41 L119.32 311.21 L120.08 311.26 L120.84 311.54 L121.6 312.02 L122.35 312.68 L123.11 313.51 L123.87 314.47 L124.63 315.56 L125.39 316.73 L126.14 317.96 L126.9 319.21 L127.66 320.45 L128.42 321.65 L129.18 322.77 L129.94 323.79 L130.69 324.67 L131.45 325.39 L132.21 325.9 L132.97 326.18 L133.73 326.2 L134.48 325.92 L135.24 325.32 L136 324.42 L136.76 323.29 L137.52 321.98 L138.27 320.53 L139.03 319 L139.79 317.46 L140.55 315.94 L141.31 314.51 L142.06 313.22 L142.82 312.12 L143.58 311.27 L144.34 310.72 L145.1 310.53 L145.85 310.74 L146.61 311.39 L147.37 312.39 L148.13 313.68 L148.89 315.18 L149.64 316.81 L150.4 318.49 L151.16 320.15 L151.92 321.69 L152.68 323.06 L153.43 324.17 L154.19 324.94 L154.95 325.29 L155.71 325.15 L156.47 324.44 L157.23 323.08 L157.98 321.08 L158.74 318.52 L159.5 315.48 L160.26 312.04 L161.02 308.26 L161.77 304.24 L162.53 300.04 L163.29 295.75 L164.05 291.45 L164.81 287.21 L165.56 283.11 L166.32 279.23 L167.08 275.65 L167.84 272.44 L168.6 269.67 L169.35 267.35 L170.11 265.47 L170.87 264.01 L171.63 262.96 L172.39 262.32 L173.14 262.07 L173.9 262.2 L174.66 262.7 L175.42 263.53 L176.18 264.69 L176.93 266.15 L177.69 267.88 L178.45 269.87 L179.21 272.09 L179.97 274.53 L180.72 277.15 L181.48 279.94 L182.24 282.86 L183 285.9 L183.76 289.02 L184.52 292.21 L185.27 295.44 L186.03 298.68 L186.79 301.91 L187.55 305.1 L188.31 308.23 L189.06 311.28 L189.82 314.22 L190.58 317.03 L191.34 319.69 L192.1 322.19 L192.85 324.52 L193.61 326.69 L194.37 328.67 L195.13 330.45 L195.89 332.04 L196.64 333.42 L197.4 334.57 L198.16 335.5 L198.92 336.2 L199.68 336.64 L200.43 336.84 L201.19 336.77 L201.95 336.43 L202.71 335.86 L203.47 335.08 L204.22 334.13 L204.98 333.02 L205.74 331.79 L206.5 330.47 L207.26 329.09 L208.01 327.68 L208.77 326.26 L209.53 324.87 L210.29 323.54 L211.05 322.3 L211.81 321.17 L212.56 320.18 L213.32 319.35 L214.08 318.68 L214.84 318.16 L215.6 317.78 L216.35 317.55 L217.11 317.46 L217.87 317.51 L218.63 317.69 L219.39 317.97 L220.14 318.34 L220.9 318.76 L221.66 319.23 L222.42 319.7 L223.18 320.17 L223.93 320.6 L224.69 321 L225.45 321.35 L226.21 321.66 L226.97 321.94 L227.72 322.16 L228.48 322.35 L229.24 322.48 L230 322.55 L230.76 322.52 L231.51 322.37 L232.27 322.05 L233.03 321.54 L233.79 320.81 L234.55 319.82 L235.3 318.57 L236.06 317.07 L236.82 315.37 L237.58 313.48 L238.34 311.44 L239.1 309.27 L239.85 307.01 L240.61 304.67 L241.37 302.3 L242.13 299.92 L242.89 297.56 L243.64 295.25 L244.4 293.01 L245.16 290.88 L245.92 288.89 L246.68 287.04 L247.43 285.37 L248.19 283.89 L248.95 282.61 L249.71 281.54 L250.47 280.72 L251.22 280.15 L251.98 279.84 L252.74 279.83 L253.5 280.11 L254.26 280.71 L255.01 281.62 L255.77 282.82 L256.53 284.3 L257.29 286.02 L258.05 287.96 L258.8 290.07 L259.56 292.3 L260.32 294.63 L261.08 297 L261.84 299.37 L262.59 301.7 L263.35 303.96 L264.11 306.09 L264.87 308.06 L265.63 309.82 L266.39 311.34 L267.14 312.57 L267.9 313.47 L268.66 313.98 L269.42 314.05 L270.18 313.65 L270.93 312.86 L271.69 311.75 L272.45 310.41 L273.21 308.92 L273.97 307.37 L274.72 305.82 L275.48 304.37 L276.24 303.1 L277 302.08 L277.76 301.4 L278.51 301.13 L279.27 301.36 L280.03 302.04 L280.79 303.11 L281.55 304.5 L282.3 306.16 L283.06 308.01 L283.82 310 L284.58 312.04 L285.34 314.09 L286.09 316.07 L286.85 317.92 L287.61 319.57 L288.37 320.95 L289.13 322.01 L289.88 322.68 L290.64 322.93 L291.4 322.82 L292.16 322.41 L292.92 321.74 L293.68 320.88 L294.43 319.87 L295.19 318.78 L295.95 317.64 L296.71 316.53 L297.47 315.49 L298.22 314.57 L298.98 313.83 L299.74 313.32 L300.5 313.1 L301.26 313.21 L302.01 313.65 L302.77 314.37 L303.53 315.34 L304.29 316.49 L305.05 317.78 L305.8 319.18 L306.56 320.63 L307.32 322.08 L308.08 323.49 L308.84 324.82 L309.59 326.01 L310.35 327.02 L311.11 327.81 L311.87 328.32 L312.63 328.53 L313.38 328.46 L314.14 328.14 L314.9 327.6 L315.66 326.89 L316.42 326.03 L317.17 325.05 L317.93 323.99 L318.69 322.89 L319.45 321.78 L320.21 320.69 L320.97 319.66 L321.72 318.72 L322.48 317.9 L323.24 317.23 L324 316.75 L324.76 316.44 L325.51 316.31 L326.27 316.34 L327.03 316.52 L327.79 316.81 L328.55 317.19 L329.3 317.63 L330.06 318.11 L330.82 318.61 L331.58 319.1 L332.34 319.55 L333.09 319.94 L333.85 320.24 L334.61 320.44 L335.37 320.54 L336.13 320.56 L336.88 320.46 L337.64 320.21 L338.4 319.79 L339.16 319.14 L339.92 318.25 L340.67 317.08 L341.43 315.6 L342.19 313.78 L342.95 311.57 L343.71 308.96 L344.46 305.91 L345.22 302.38 L345.98 298.38 L346.74 294 L347.5 289.36 L348.26 284.56 L349.01 279.7 L349.77 274.89 L350.53 270.24 L351.29 265.85 L352.05 261.83 L352.8 258.28 L353.56 255.32 L354.32 253.04 L355.08 251.56 L355.84 250.97 L356.59 251.39 L357.35 252.79 L358.11 255.08 L358.87 258.14 L359.63 261.88 L360.38 266.18 L361.14 270.95 L361.9 276.06 L362.66 281.43 L363.42 286.95 L364.17 292.5 L364.93 297.98 L365.69 303.3 L366.45 308.34 L367.21 312.99 L367.96 317.17 L368.72 320.88 L369.48 324.14 L370.24 326.97 L371 329.38 L371.75 331.39 L372.51 333.03 L373.27 334.32 L374.03 335.26 L374.79 335.89 L375.55 336.22 L376.3 336.27 L377.06 336.02 L377.82 335.44 L378.58 334.52 L379.34 333.23 L380.09 331.63 L380.85 329.74 L381.61 327.61 L382.37 325.28 L383.13 322.78 L383.88 320.15 L384.64 317.43 L385.4 314.67 L386.16 311.89 L386.92 309.13 L387.67 306.44 L388.43 303.85 L389.19 301.4 L389.95 299.13 L390.71 297.05 L391.46 295.15 L392.22 293.44 L392.98 291.91 L393.74 290.56 L394.5 289.39 L395.25 288.39 L396.01 287.56 L396.77 286.91 L397.53 286.43 L398.29 286.12 L399.04 285.97 L399.8 285.98 L400.56 286.2 L401.32 286.79 L402.08 287.75 L402.84 289.05 L403.59 290.65 L404.35 292.51 L405.11 294.6 L405.87 296.87 L406.63 299.29 L407.38 301.82 L408.14 304.43 L408.9 307.07 L409.66 309.71 L410.42 312.31 L411.17 314.84 L411.93 317.25 L412.69 319.52 L413.45 321.64 L414.21 323.59 L414.96 325.36 L415.72 326.94 L416.48 328.3 L417.24 329.45 L418 330.35 L418.75 331 L419.51 331.38 L420.27 331.49 L421.03 331.28 L421.79 330.71 L422.54 329.69 L423.3 328.18 L424.06 326.22 L424.82 323.89 L425.58 321.24 L426.33 318.35 L427.09 315.29 L427.85 312.14 L428.61 308.95 L429.37 305.81 L430.13 302.79 L430.88 299.94 L431.64 297.35 L432.4 295.09 L433.16 293.22 L433.92 291.81 L434.67 290.89 L435.43 290.4 L436.19 290.28 L436.95 290.47 L437.71 290.92 L438.46 291.64 L439.22 292.6 L439.98 293.79 L440.74 295.19 L441.5 296.79 L442.25 298.57 L443.01 300.52 L443.77 302.61 L444.53 304.85 L445.29 307.2 L446.04 309.65 L446.8 312.16 L447.56 314.7 L448.32 317.23 L449.08 319.72 L449.83 322.14 L450.59 324.45 L451.35 326.63 L452.11 328.63 L452.87 330.44 L453.62 332 L454.38 333.3 L455.14 334.29 L455.9 334.95 L456.66 335.25 L457.42 335.23 L458.17 334.9 L458.93 334.31 L459.69 333.46 L460.45 332.39 L461.21 331.12 L461.96 329.67 L462.72 328.06 L463.48 326.32 L464.24 324.48 L465 322.55 L465.75 320.56 L466.51 318.53 L467.27 316.49 L468.03 314.46 L468.79 312.46 L469.54 310.5 L470.3 308.59 L471.06 306.77 L471.82 305.04 L472.58 303.41 L473.33 301.92 L474.09 300.58 L474.85 299.39 L475.61 298.39 L476.37 297.58 L477.12 296.98 L477.88 296.62 L478.64 296.5 L479.4 296.6 L480.16 296.89 L480.91 297.32 L481.67 297.87 L482.43 298.5 L483.19 299.18 L483.95 299.87 L484.71 300.54 L485.46 301.14 L486.22 301.66 L486.98 302.05 L487.74 302.26 L488.5 302.15 L489.25 301.51 L490.01 300.23 L490.77 298.39 L491.53 296.09 L492.29 293.42 L493.04 290.49 L493.8 287.37 L494.56 284.18 L495.32 281.01 L496.08 277.95 L496.83 275.1 L497.59 272.56 L498.35 270.42 L499.11 268.78 L499.87 267.73 L500.62 267.36 L501.38 267.67 L502.14 268.59 L502.9 270.04 L503.66 271.96 L504.41 274.26 L505.17 276.89 L505.93 279.77 L506.69 282.83 L507.45 285.99 L508.2 289.19 L508.96 292.36 L509.72 295.43 L510.48 298.31 L511.24 300.96 L512 303.3 L512.75 305.36 L513.51 307.16 L514.27 308.75 L515.03 310.14 L515.79 311.38 L516.54 312.48 L517.3 313.48 L518.06 314.42 L518.82 315.31 L519.58 316.2 L520.33 317.11 L521.09 318.08 L521.85 319.12 L522.61 320.28 L523.37 321.55 L524.12 322.9 L524.88 324.27 L525.64 325.64 L526.4 326.95 L527.16 328.18 L527.91 329.27 L528.67 330.2 L529.43 330.91 L530.19 331.37 L530.95 331.53 L531.7 331.33 L532.46 330.68 L533.22 329.49 L533.98 327.67 L534.74 325.27 L535.49 322.4 L536.25 319.13 L537.01 315.57 L537.77 311.8 L538.53 307.93 L539.29 304.05 L540.04 300.25 L540.8 296.62 L541.56 293.26 L542.32 290.27 L543.08 287.73 L543.83 285.74 L544.59 284.4 L545.35 283.73 L546.11 283.66 L546.87 284.07 L547.62 284.92 L548.38 286.16 L549.14 287.77 L549.9 289.72 L550.66 291.96 L551.41 294.47 L552.17 297.22 L552.93 300.16 L553.69 303.27 L554.45 306.52 L555.2 309.88 L555.96 313.3 L556.72 316.75 L557.48 320.21 L558.24 323.65 L558.99 327.02 L559.75 330.29 L560.51 333.44 L561.27 336.42 L562.03 339.21 L562.78 341.78 L563.54 344.08 L564.3 346.09 L565.06 347.78 L565.82 349.1 L566.58 350.04" fill="none" stroke="#000" stroke-width="1.1" stroke-linejoin="round" stroke-linecap="butt"/>
<g fill="#000">
<circle cx="112.5" cy="324.68" r="0.95"/>
<circle cx="123.58" cy="313.7" r="0.95"/>
<circle cx="134.65" cy="326.42" r="0.95"/>
<circle cx="145.72" cy="309.92" r="0.95"/>
<circle cx="156.8" cy="323.69" r="0.95"/>
<circle cx="167.88" cy="272.82" r="0.95"/>
<circle cx="178.95" cy="264.5" r="0.95"/>
<circle cx="190.02" cy="320.51" r="0.95"/>
<circle cx="201.1" cy="331.49" r="0.95"/>
<circle cx="212.18" cy="319.76" r="0.95"/>
<circle cx="223.25" cy="321.04" r="0.95"/>
<circle cx="234.32" cy="323.54" r="0.95"/>
<circle cx="245.4" cy="284.63" r="0.95"/>
<circle cx="256.48" cy="289.78" r="0.95"/>
<circle cx="267.55" cy="312.72" r="0.95"/>
<circle cx="278.62" cy="301.14" r="0.95"/>
<circle cx="289.7" cy="324.07" r="0.95"/>
<circle cx="300.77" cy="312.72" r="0.95"/>
<circle cx="311.85" cy="328.09" r="0.95"/>
<circle cx="322.92" cy="318.77" r="0.95"/>
<circle cx="334" cy="316.35" r="0.95"/>
<circle cx="345.07" cy="305.15" r="0.95"/>
<circle cx="356.15" cy="248.6" r="0.95"/>
<circle cx="367.23" cy="312.72" r="0.95"/>
<circle cx="378.3" cy="341.18" r="0.95"/>
<circle cx="389.38" cy="297.96" r="0.95"/>
<circle cx="400.45" cy="287.96" r="0.95"/>
<circle cx="411.52" cy="318.77" r="0.95"/>
<circle cx="422.6" cy="323.92" r="0.95"/>
<circle cx="433.67" cy="297.05" r="0.95"/>
<circle cx="444.75" cy="302.65" r="0.95"/>
<circle cx="455.82" cy="337.4" r="0.95"/>
<circle cx="466.9" cy="318.24" r="0.95"/>
<circle cx="477.97" cy="295.61" r="0.95"/>
<circle cx="489.05" cy="301.74" r="0.95"/>
<circle cx="500.12" cy="265.1" r="0.95"/>
<circle cx="511.2" cy="301.14" r="0.95"/>
<circle cx="522.27" cy="318.77" r="0.95"/>
<circle cx="533.35" cy="329.22" r="0.95"/>
<circle cx="544.42" cy="283.72" r="0.95"/>
<circle cx="555.5" cy="311.2" r="0.95"/>
<circle cx="566.58" cy="350.04" r="0.95"/>
</g>
<text x="129.11" y="405.25" font-size="7" fill="#111" text-anchor="start" textLength="35.56" lengthAdjust="spacingAndGlyphs">Mon 22-07</text>
<text x="195.56" y="405.25" font-size="7" fill="#111" text-anchor="start" textLength="32.89" lengthAdjust="spacingAndGlyphs">Tue 23-07</text>
<text x="262.01" y="405.25" font-size="7" fill="#111" text-anchor="start" textLength="36.04" lengthAdjust="spacingAndGlyphs">Wed 24-07</text>
<text x="328.46" y="405.25" font-size="7" fill="#111" text-anchor="start" textLength="36.77" lengthAdjust="spacingAndGlyphs">Thur 25-07</text>
<text x="394.91" y="405.25" font-size="7" fill="#111" text-anchor="start" textLength="29.45" lengthAdjust="spacingAndGlyphs">Fri 26-07</text>
<text x="461.36" y="405.25" font-size="7" fill="#111" text-anchor="start" textLength="32.44" lengthAdjust="spacingAndGlyphs">Sat 27-07</text>
<text x="527.81" y="405.25" font-size="7" fill="#111" text-anchor="start" textLength="34.19" lengthAdjust="spacingAndGlyphs">Sun 28-07</text>
<g stroke="#1a1a1a" stroke-width="0.75" fill="none">
<line x1="83.6" y1="235.2" x2="83.6" y2="413.65"/>
<line x1="83.25" y1="413.3" x2="607.2" y2="413.3"/>
</g>
<g stroke="#000" stroke-width="0.9" fill="none">
<line x1="80.3" y1="400" x2="83.6" y2="400"/>
<line x1="80.3" y1="362.15" x2="83.6" y2="362.15"/>
<line x1="80.3" y1="324.3" x2="83.6" y2="324.3"/>
<line x1="80.3" y1="286.45" x2="83.6" y2="286.45"/>
<line x1="80.3" y1="248.6" x2="83.6" y2="248.6"/>
<line x1="112.5" y1="413.3" x2="112.5" y2="416.6"/>
<line x1="123.58" y1="413.3" x2="123.58" y2="416.6"/>
<line x1="134.65" y1="413.3" x2="134.65" y2="416.6"/>
<line x1="145.72" y1="413.3" x2="145.72" y2="416.6"/>
<line x1="156.8" y1="413.3" x2="156.8" y2="416.6"/>
<line x1="167.88" y1="413.3" x2="167.88" y2="416.6"/>
<line x1="178.95" y1="413.3" x2="178.95" y2="416.6"/>
<line x1="190.02" y1="413.3" x2="190.02" y2="416.6"/>
<line x1="201.1" y1="413.3" x2="201.1" y2="416.6"/>
<line x1="212.18" y1="413.3" x2="212.18" y2="416.6"/>
<line x1="223.25" y1="413.3" x2="223.25" y2="416.6"/>
<line x1="234.32" y1="413.3" x2="234.32" y2="416.6"/>
<line x1="245.4" y1="413.3" x2="245.4" y2="416.6"/>
<line x1="256.48" y1="413.3" x2="256.48" y2="416.6"/>
<line x1="267.55" y1="413.3" x2="267.55" y2="416.6"/>
<line x1="278.62" y1="413.3" x2="278.62" y2="416.6"/>
<line x1="289.7" y1="413.3" x2="289.7" y2="416.6"/>
<line x1="300.77" y1="413.3" x2="300.77" y2="416.6"/>
<line x1="311.85" y1="413.3" x2="311.85" y2="416.6"/>
<line x1="322.92" y1="413.3" x2="322.92" y2="416.6"/>
<line x1="334" y1="413.3" x2="334" y2="416.6"/>
<line x1="345.07" y1="413.3" x2="345.07" y2="416.6"/>
<line x1="356.15" y1="413.3" x2="356.15" y2="416.6"/>
<line x1="367.23" y1="413.3" x2="367.23" y2="416.6"/>
<line x1="378.3" y1="413.3" x2="378.3" y2="416.6"/>
<line x1="389.38" y1="413.3" x2="389.38" y2="416.6"/>
<line x1="400.45" y1="413.3" x2="400.45" y2="416.6"/>
<line x1="411.52" y1="413.3" x2="411.52" y2="416.6"/>
<line x1="422.6" y1="413.3" x2="422.6" y2="416.6"/>
<line x1="433.67" y1="413.3" x2="433.67" y2="416.6"/>
<line x1="444.75" y1="413.3" x2="444.75" y2="416.6"/>
<line x1="455.82" y1="413.3" x2="455.82" y2="416.6"/>
<line x1="466.9" y1="413.3" x2="466.9" y2="416.6"/>
<line x1="477.97" y1="413.3" x2="477.97" y2="416.6"/>
<line x1="489.05" y1="413.3" x2="489.05" y2="416.6"/>
<line x1="500.12" y1="413.3" x2="500.12" y2="416.6"/>
<line x1="511.2" y1="413.3" x2="511.2" y2="416.6"/>
<line x1="522.27" y1="413.3" x2="522.27" y2="416.6"/>
<line x1="533.35" y1="413.3" x2="533.35" y2="416.6"/>
<line x1="544.42" y1="413.3" x2="544.42" y2="416.6"/>
<line x1="555.5" y1="413.3" x2="555.5" y2="416.6"/>
<line x1="566.58" y1="413.3" x2="566.58" y2="416.6"/>
</g>
<text x="77.2" y="403.05" font-size="8.72" fill="#262626" text-anchor="end" textLength="22.8" lengthAdjust="spacingAndGlyphs">−100</text>
<text x="77.2" y="365.2" font-size="8.72" fill="#262626" text-anchor="end" textLength="17.52" lengthAdjust="spacingAndGlyphs">−50</text>
<text x="77.2" y="327.35" font-size="8.72" fill="#262626" text-anchor="end">0</text>
<text x="77.2" y="289.5" font-size="8.72" fill="#262626" text-anchor="end" textLength="10.56" lengthAdjust="spacingAndGlyphs">50</text>
<text x="77.2" y="251.65" font-size="8.72" fill="#262626" text-anchor="end" textLength="15.84" lengthAdjust="spacingAndGlyphs">100</text>
<text transform="translate(114.85 420.5) rotate(-90)" font-size="8.72" fill="#262626" text-anchor="end" textLength="13.56" lengthAdjust="spacingAndGlyphs">0-4</text>
<text transform="translate(125.92 420.5) rotate(-90)" font-size="8.72" fill="#262626" text-anchor="end" textLength="13.56" lengthAdjust="spacingAndGlyphs">4-8</text>
<text transform="translate(137 420.5) rotate(-90)" font-size="8.72" fill="#262626" text-anchor="end" textLength="18.84" lengthAdjust="spacingAndGlyphs">8-12</text>
<text transform="translate(148.07 420.5) rotate(-90)" font-size="8.72" fill="#262626" text-anchor="end" textLength="24.12" lengthAdjust="spacingAndGlyphs">12-16</text>
<text transform="translate(159.15 420.5) rotate(-90)" font-size="8.72" fill="#262626" text-anchor="end" textLength="24.12" lengthAdjust="spacingAndGlyphs">16-20</text>
<text transform="translate(170.22 420.5) rotate(-90)" font-size="8.72" fill="#262626" text-anchor="end" textLength="18.84" lengthAdjust="spacingAndGlyphs">20-0</text>
<text transform="translate(181.3 420.5) rotate(-90)" font-size="8.72" fill="#262626" text-anchor="end" textLength="13.56" lengthAdjust="spacingAndGlyphs">0-4</text>
<text transform="translate(192.37 420.5) rotate(-90)" font-size="8.72" fill="#262626" text-anchor="end" textLength="13.56" lengthAdjust="spacingAndGlyphs">4-8</text>
<text transform="translate(203.45 420.5) rotate(-90)" font-size="8.72" fill="#262626" text-anchor="end" textLength="18.84" lengthAdjust="spacingAndGlyphs">8-12</text>
<text transform="translate(214.53 420.5) rotate(-90)" font-size="8.72" fill="#262626" text-anchor="end" textLength="24.12" lengthAdjust="spacingAndGlyphs">12-16</text>
<text transform="translate(225.6 420.5) rotate(-90)" font-size="8.72" fill="#262626" text-anchor="end" textLength="24.12" lengthAdjust="spacingAndGlyphs">16-20</text>
<text transform="translate(236.67 420.5) rotate(-90)" font-size="8.72" fill="#262626" text-anchor="end" textLength="18.84" lengthAdjust="spacingAndGlyphs">20-0</text>
<text transform="translate(247.75 420.5) rotate(-90)" font-size="8.72" fill="#262626" text-anchor="end" textLength="13.56" lengthAdjust="spacingAndGlyphs">0-4</text>
<text transform="translate(258.83 420.5) rotate(-90)" font-size="8.72" fill="#262626" text-anchor="end" textLength="13.56" lengthAdjust="spacingAndGlyphs">4-8</text>
<text transform="translate(269.9 420.5) rotate(-90)" font-size="8.72" fill="#262626" text-anchor="end" textLength="18.84" lengthAdjust="spacingAndGlyphs">8-12</text>
<text transform="translate(280.98 420.5) rotate(-90)" font-size="8.72" fill="#262626" text-anchor="end" textLength="24.12" lengthAdjust="spacingAndGlyphs">12-16</text>
<text transform="translate(292.05 420.5) rotate(-90)" font-size="8.72" fill="#262626" text-anchor="end" textLength="24.12" lengthAdjust="spacingAndGlyphs">16-20</text>
<text transform="translate(303.12 420.5) rotate(-90)" font-size="8.72" fill="#262626" text-anchor="end" textLength="18.84" lengthAdjust="spacingAndGlyphs">20-0</text>
<text transform="translate(314.2 420.5) rotate(-90)" font-size="8.72" fill="#262626" text-anchor="end" textLength="13.56" lengthAdjust="spacingAndGlyphs">0-4</text>
<text transform="translate(325.27 420.5) rotate(-90)" font-size="8.72" fill="#262626" text-anchor="end" textLength="13.56" lengthAdjust="spacingAndGlyphs">4-8</text>
<text transform="translate(336.35 420.5) rotate(-90)" font-size="8.72" fill="#262626" text-anchor="end" textLength="18.84" lengthAdjust="spacingAndGlyphs">8-12</text>
<text transform="translate(347.43 420.5) rotate(-90)" font-size="8.72" fill="#262626" text-anchor="end" textLength="24.12" lengthAdjust="spacingAndGlyphs">12-16</text>
<text transform="translate(358.5 420.5) rotate(-90)" font-size="8.72" fill="#262626" text-anchor="end" textLength="24.12" lengthAdjust="spacingAndGlyphs">16-20</text>
<text transform="translate(369.58 420.5) rotate(-90)" font-size="8.72" fill="#262626" text-anchor="end" textLength="18.84" lengthAdjust="spacingAndGlyphs">20-0</text>
<text transform="translate(380.65 420.5) rotate(-90)" font-size="8.72" fill="#262626" text-anchor="end" textLength="13.56" lengthAdjust="spacingAndGlyphs">0-4</text>
<text transform="translate(391.73 420.5) rotate(-90)" font-size="8.72" fill="#262626" text-anchor="end" textLength="13.56" lengthAdjust="spacingAndGlyphs">4-8</text>
<text transform="translate(402.8 420.5) rotate(-90)" font-size="8.72" fill="#262626" text-anchor="end" textLength="18.84" lengthAdjust="spacingAndGlyphs">8-12</text>
<text transform="translate(413.88 420.5) rotate(-90)" font-size="8.72" fill="#262626" text-anchor="end" textLength="24.12" lengthAdjust="spacingAndGlyphs">12-16</text>
<text transform="translate(424.95 420.5) rotate(-90)" font-size="8.72" fill="#262626" text-anchor="end" textLength="24.12" lengthAdjust="spacingAndGlyphs">16-20</text>
<text transform="translate(436.02 420.5) rotate(-90)" font-size="8.72" fill="#262626" text-anchor="end" textLength="18.84" lengthAdjust="spacingAndGlyphs">20-0</text>
<text transform="translate(447.1 420.5) rotate(-90)" font-size="8.72" fill="#262626" text-anchor="end" textLength="13.56" lengthAdjust="spacingAndGlyphs">0-4</text>
<text transform="translate(458.18 420.5) rotate(-90)" font-size="8.72" fill="#262626" text-anchor="end" textLength="13.56" lengthAdjust="spacingAndGlyphs">4-8</text>
<text transform="translate(469.25 420.5) rotate(-90)" font-size="8.72" fill="#262626" text-anchor="end" textLength="18.84" lengthAdjust="spacingAndGlyphs">8-12</text>
<text transform="translate(480.32 420.5) rotate(-90)" font-size="8.72" fill="#262626" text-anchor="end" textLength="24.12" lengthAdjust="spacingAndGlyphs">12-16</text>
<text transform="translate(491.4 420.5) rotate(-90)" font-size="8.72" fill="#262626" text-anchor="end" textLength="24.12" lengthAdjust="spacingAndGlyphs">16-20</text>
<text transform="translate(502.48 420.5) rotate(-90)" font-size="8.72" fill="#262626" text-anchor="end" textLength="18.84" lengthAdjust="spacingAndGlyphs">20-0</text>
<text transform="translate(513.55 420.5) rotate(-90)" font-size="8.72" fill="#262626" text-anchor="end" textLength="13.56" lengthAdjust="spacingAndGlyphs">0-4</text>
<text transform="translate(524.62 420.5) rotate(-90)" font-size="8.72" fill="#262626" text-anchor="end" textLength="13.56" lengthAdjust="spacingAndGlyphs">4-8</text>
<text transform="translate(535.7 420.5) rotate(-90)" font-size="8.72" fill="#262626" text-anchor="end" textLength="18.84" lengthAdjust="spacingAndGlyphs">8-12</text>
<text transform="translate(546.77 420.5) rotate(-90)" font-size="8.72" fill="#262626" text-anchor="end" textLength="24.12" lengthAdjust="spacingAndGlyphs">12-16</text>
<text transform="translate(557.85 420.5) rotate(-90)" font-size="8.72" fill="#262626" text-anchor="end" textLength="24.12" lengthAdjust="spacingAndGlyphs">16-20</text>
<text transform="translate(568.93 420.5) rotate(-90)" font-size="8.72" fill="#262626" text-anchor="end" textLength="18.84" lengthAdjust="spacingAndGlyphs">20-0</text>
<text x="345.4" y="453.1" font-size="8.72" fill="#262626" text-anchor="middle" textLength="100.67" lengthAdjust="spacingAndGlyphs">Time (period of the day)</text>
<text transform="translate(49.9 324.65) rotate(-90)" font-size="8.72" fill="#262626" text-anchor="middle" textLength="91.22" lengthAdjust="spacingAndGlyphs">Difference in calls (%)</text>
<rect x="523.1" y="239.2" width="79.8" height="26.6" rx="1.6" ry="1.6" fill="#fff" fill-opacity="0.8" stroke="#cccccc" stroke-opacity="0.8" stroke-width="0.7"/>
<circle cx="535" cy="246.7" r="0.9" fill="#000"/>
<line x1="526.3" y1="258" x2="543.5" y2="258" stroke="#222" stroke-width="1.15"/>
<text x="549.8" y="249.2" font-size="8.72" fill="#262626" text-anchor="start" textLength="39.23" lengthAdjust="spacingAndGlyphs">Real data</text>
<text x="549.8" y="260.9" font-size="8.72" fill="#262626" text-anchor="start" textLength="50.4" lengthAdjust="spacingAndGlyphs">Cubic spline</text>
<defs><linearGradient id="gb" x1="0" y1="1" x2="0" y2="0"><stop offset="0" stop-color="#4e5ec6"/><stop offset="0.04" stop-color="#596ed4"/><stop offset="0.08" stop-color="#657ee1"/><stop offset="0.12" stop-color="#728fec"/><stop offset="0.17" stop-color="#7e9cf4"/><stop offset="0.21" stop-color="#8babfa"/><stop offset="0.25" stop-color="#99b8fe"/><stop offset="0.29" stop-color="#a5c2ff"/><stop offset="0.33" stop-color="#b3ccfd"/><stop offset="0.38" stop-color="#c0d5f9"/><stop offset="0.42" stop-color="#cbdaf3"/><stop offset="0.46" stop-color="#d6deeb"/><stop offset="0.5" stop-color="#e1e0df"/><stop offset="0.54" stop-color="#e9dbd3"/><stop offset="0.58" stop-color="#f1d3c4"/><stop offset="0.62" stop-color="#f6cab4"/><stop offset="0.67" stop-color="#f8bfa6"/><stop offset="0.71" stop-color="#f8b296"/><stop offset="0.75" stop-color="#f5a387"/><stop offset="0.79" stop-color="#f09479"/><stop offset="0.83" stop-color="#e9826b"/><stop offset="0.88" stop-color="#e06f5d"/><stop offset="0.92" stop-color="#d65b52"/><stop offset="0.96" stop-color="#c94346"/><stop offset="1" stop-color="#bb1d3c"/></linearGradient></defs>
<rect x="640.2" y="235.2" width="8.8" height="178.1" fill="url(#gb)" stroke="#1a1a1a" stroke-width="0.75"/>
<g stroke="#000" stroke-width="0.9">
<line x1="649" y1="403.1" x2="652.2" y2="403.1"/>
<line x1="649" y1="381.54" x2="652.2" y2="381.54"/>
<line x1="649" y1="359.99" x2="652.2" y2="359.99"/>
<line x1="649" y1="338.43" x2="652.2" y2="338.43"/>
<line x1="649" y1="316.87" x2="652.2" y2="316.87"/>
<line x1="649" y1="295.31" x2="652.2" y2="295.31"/>
<line x1="649" y1="273.76" x2="652.2" y2="273.76"/>
<line x1="649" y1="252.2" x2="652.2" y2="252.2"/>
</g>
<text x="654.7" y="406.15" font-size="8.72" fill="#262626" text-anchor="start" textLength="18.48" lengthAdjust="spacingAndGlyphs">17.5</text>
<text x="654.7" y="384.59" font-size="8.72" fill="#262626" text-anchor="start" textLength="18.48" lengthAdjust="spacingAndGlyphs">20.0</text>
<text x="654.7" y="363.04" font-size="8.72" fill="#262626" text-anchor="start" textLength="18.48" lengthAdjust="spacingAndGlyphs">22.5</text>
<text x="654.7" y="341.48" font-size="8.72" fill="#262626" text-anchor="start" textLength="18.48" lengthAdjust="spacingAndGlyphs">25.0</text>
<text x="654.7" y="319.92" font-size="8.72" fill="#262626" text-anchor="start" textLength="18.48" lengthAdjust="spacingAndGlyphs">27.5</text>
<text x="654.7" y="298.36" font-size="8.72" fill="#262626" text-anchor="start" textLength="18.48" lengthAdjust="spacingAndGlyphs">30.0</text>
<text x="654.7" y="276.81" font-size="8.72" fill="#262626" text-anchor="start" textLength="18.48" lengthAdjust="spacingAndGlyphs">32.5</text>
<text x="654.7" y="255.25" font-size="8.72" fill="#262626" text-anchor="start" textLength="18.48" lengthAdjust="spacingAndGlyphs">35.0</text>
<text transform="translate(682.2 324.25) rotate(-90)" font-size="8.72" fill="#262626" text-anchor="middle" textLength="104.06" lengthAdjust="spacingAndGlyphs">Median temperature (°C)</text>
<text font-size="22.5" font-weight="bold" fill="#000" x="0.2" y="258.9">(b)</text>
<rect x="106.8" y="476.68" width="11.63" height="163.15" fill="#707bd3"/>
<rect x="117.83" y="476.68" width="11.63" height="163.15" fill="#5f74e0"/>
<rect x="128.86" y="476.68" width="11.64" height="163.15" fill="#96b2f6"/>
<rect x="139.9" y="476.68" width="11.64" height="163.15" fill="#cdd7eb"/>
<rect x="150.94" y="476.68" width="11.64" height="163.15" fill="#cddaf0"/>
<rect x="161.98" y="476.68" width="11.64" height="163.15" fill="#8ca8f3"/>
<rect x="173.02" y="476.68" width="11.65" height="163.15" fill="#637be1"/>
<rect x="184.07" y="476.68" width="11.65" height="163.15" fill="#6b85e8"/>
<rect x="195.12" y="476.68" width="11.65" height="163.15" fill="#cdc9da"/>
<rect x="206.17" y="476.68" width="11.66" height="163.15" fill="#ebaa95"/>
<rect x="217.23" y="476.68" width="11.66" height="163.15" fill="#efb7a0"/>
<rect x="228.29" y="476.68" width="11.66" height="163.15" fill="#d2d4e5"/>
<rect x="239.35" y="476.68" width="11.67" height="163.15" fill="#a5c0fa"/>
<rect x="250.42" y="476.68" width="11.67" height="163.15" fill="#acc8fc"/>
<rect x="261.49" y="476.68" width="11.67" height="163.15" fill="#e2a497"/>
<rect x="272.56" y="476.68" width="11.67" height="163.15" fill="#d45a54"/>
<rect x="283.63" y="476.68" width="11.68" height="163.15" fill="#e9a18c"/>
<rect x="294.71" y="476.68" width="11.68" height="163.15" fill="#bec7ec"/>
<rect x="305.79" y="476.68" width="11.68" height="163.15" fill="#86a1f2"/>
<rect x="316.88" y="476.68" width="11.69" height="163.15" fill="#9ebcfc"/>
<rect x="327.96" y="476.68" width="11.69" height="163.15" fill="#e3afa5"/>
<rect x="339.05" y="476.68" width="11.69" height="163.15" fill="#c4334a"/>
<rect x="350.15" y="476.68" width="11.7" height="163.15" fill="#c83c44"/>
<rect x="361.24" y="476.68" width="11.7" height="163.15" fill="#e9a08c"/>
<rect x="372.34" y="476.68" width="11.7" height="163.15" fill="#ded9db"/>
<rect x="383.44" y="476.68" width="11.71" height="163.15" fill="#cddaf0"/>
<rect x="394.55" y="476.68" width="11.71" height="163.15" fill="#e3a090"/>
<rect x="405.66" y="476.68" width="11.71" height="163.15" fill="#c9414d"/>
<rect x="416.77" y="476.68" width="11.71" height="163.15" fill="#e37d6d"/>
<rect x="427.88" y="476.68" width="11.72" height="163.15" fill="#d2cedc"/>
<rect x="439" y="476.68" width="11.72" height="163.15" fill="#a5c0fb"/>
<rect x="450.12" y="476.68" width="11.72" height="163.15" fill="#a8c5fd"/>
<rect x="461.24" y="476.68" width="11.73" height="163.15" fill="#d6dae7"/>
<rect x="472.37" y="476.68" width="11.73" height="163.15" fill="#ebcec0"/>
<rect x="483.5" y="476.68" width="11.73" height="163.15" fill="#beccef"/>
<rect x="494.63" y="476.68" width="11.74" height="163.15" fill="#87a5f5"/>
<rect x="505.77" y="476.68" width="11.74" height="163.15" fill="#7591ee"/>
<rect x="516.9" y="476.68" width="11.74" height="163.15" fill="#7f9ef3"/>
<rect x="528.05" y="476.68" width="11.74" height="163.15" fill="#acc7fa"/>
<rect x="539.19" y="476.68" width="11.75" height="163.15" fill="#afcbfc"/>
<rect x="550.34" y="476.68" width="11.75" height="163.15" fill="#8caaf8"/>
<rect x="561.49" y="476.68" width="11.75" height="163.15" fill="#7792ef"/>
<rect x="572.64" y="476.68" width="11.16" height="163.15" fill="#8da3ed"/>
<g stroke="#7a7a7a" stroke-width="0.95" stroke-dasharray="2.95 1.45" fill="none">
<line x1="83.6" y1="558.25" x2="607.2" y2="558.25" stroke-dashoffset="0.65"/>
<line x1="179.05" y1="468.7" x2="179.05" y2="647.1"/>
<line x1="245.5" y1="468.7" x2="245.5" y2="647.1"/>
<line x1="311.95" y1="468.7" x2="311.95" y2="647.1"/>
<line x1="378.4" y1="468.7" x2="378.4" y2="647.1"/>
<line x1="444.85" y1="468.7" x2="444.85" y2="647.1"/>
<line x1="511.3" y1="468.7" x2="511.3" y2="647.1"/>
</g>
<path d="M112.5 544.95 L113.26 545.43 L114.02 545.98 L114.77 546.58 L115.53 547.22 L116.29 547.91 L117.05 548.63 L117.81 549.38 L118.56 550.16 L119.32 550.96 L120.08 551.77 L120.84 552.59 L121.6 553.41 L122.35 554.22 L123.11 555.03 L123.87 555.81 L124.63 556.58 L125.39 557.32 L126.14 558.02 L126.9 558.69 L127.66 559.31 L128.42 559.88 L129.18 560.39 L129.94 560.84 L130.69 561.23 L131.45 561.53 L132.21 561.76 L132.97 561.9 L133.73 561.95 L134.48 561.91 L135.24 561.76 L136 561.5 L136.76 561.15 L137.52 560.68 L138.27 560.12 L139.03 559.45 L139.79 558.68 L140.55 557.81 L141.31 556.83 L142.06 555.75 L142.82 554.58 L143.58 553.3 L144.34 551.92 L145.1 550.44 L145.85 548.86 L146.61 547.18 L147.37 545.43 L148.13 543.64 L148.89 541.81 L149.64 539.98 L150.4 538.17 L151.16 536.39 L151.92 534.68 L152.68 533.06 L153.43 531.54 L154.19 530.16 L154.95 528.93 L155.71 527.88 L156.47 527.02 L157.23 526.39 L157.98 526 L158.74 525.88 L159.5 526.04 L160.26 526.48 L161.02 527.22 L161.77 528.26 L162.53 529.63 L163.29 531.32 L164.05 533.35 L164.81 535.73 L165.56 538.47 L166.32 541.57 L167.08 545.06 L167.84 548.93 L168.6 553.19 L169.35 557.76 L170.11 562.55 L170.87 567.46 L171.63 572.4 L172.39 577.28 L173.14 581.99 L173.9 586.45 L174.66 590.57 L175.42 594.25 L176.18 597.39 L176.93 599.9 L177.69 601.69 L178.45 602.66 L179.21 602.72 L179.97 601.86 L180.72 600.18 L181.48 597.8 L182.24 594.84 L183 591.4 L183.76 587.6 L184.52 583.57 L185.27 579.41 L186.03 575.23 L186.79 571.17 L187.55 567.32 L188.31 563.81 L189.06 560.75 L189.82 558.26 L190.58 556.43 L191.34 555.24 L192.1 554.56 L192.85 554.29 L193.61 554.32 L194.37 554.59 L195.13 555.06 L195.89 555.68 L196.64 556.42 L197.4 557.24 L198.16 558.09 L198.92 558.94 L199.68 559.75 L200.43 560.46 L201.19 561.06 L201.95 561.46 L202.71 561.58 L203.47 561.42 L204.22 561 L204.98 560.36 L205.74 559.52 L206.5 558.52 L207.26 557.37 L208.01 556.13 L208.77 554.8 L209.53 553.42 L210.29 552.02 L211.05 550.64 L211.81 549.29 L212.56 548.01 L213.32 546.81 L214.08 545.7 L214.84 544.67 L215.6 543.75 L216.35 542.91 L217.11 542.18 L217.87 541.54 L218.63 541.01 L219.39 540.59 L220.14 540.28 L220.9 540.09 L221.66 540 L222.42 540.04 L223.18 540.2 L223.93 540.47 L224.69 540.83 L225.45 541.3 L226.21 541.86 L226.97 542.5 L227.72 543.22 L228.48 544.02 L229.24 544.89 L230 545.82 L230.76 546.81 L231.51 547.85 L232.27 548.94 L233.03 550.07 L233.79 551.24 L234.55 552.43 L235.3 553.65 L236.06 554.87 L236.82 556.07 L237.58 557.24 L238.34 558.36 L239.1 559.4 L239.85 560.35 L240.61 561.19 L241.37 561.9 L242.13 562.47 L242.89 562.87 L243.64 563.09 L244.4 563.1 L245.16 562.89 L245.92 562.44 L246.68 561.77 L247.43 560.91 L248.19 559.89 L248.95 558.73 L249.71 557.49 L250.47 556.17 L251.22 554.83 L251.98 553.49 L252.74 552.18 L253.5 550.93 L254.26 549.78 L255.01 548.76 L255.77 547.91 L256.53 547.24 L257.29 546.79 L258.05 546.57 L258.8 546.58 L259.56 546.77 L260.32 547.14 L261.08 547.64 L261.84 548.25 L262.59 548.95 L263.35 549.69 L264.11 550.46 L264.87 551.22 L265.63 551.95 L266.39 552.62 L267.14 553.19 L267.9 553.65 L268.66 553.96 L269.42 554.12 L270.18 554.11 L270.93 553.94 L271.69 553.63 L272.45 553.18 L273.21 552.61 L273.97 551.95 L274.72 551.2 L275.48 550.38 L276.24 549.51 L277 548.6 L277.76 547.67 L278.51 546.73 L279.27 545.81 L280.03 544.9 L280.79 544.01 L281.55 543.14 L282.3 542.3 L283.06 541.5 L283.82 540.72 L284.58 539.99 L285.34 539.3 L286.09 538.65 L286.85 538.05 L287.61 537.51 L288.37 537.02 L289.13 536.59 L289.88 536.23 L290.64 535.95 L291.4 535.8 L292.16 535.79 L292.92 535.91 L293.68 536.12 L294.43 536.41 L295.19 536.75 L295.95 537.12 L296.71 537.48 L297.47 537.82 L298.22 538.11 L298.98 538.32 L299.74 538.43 L300.5 538.41 L301.26 538.25 L302.01 537.94 L302.77 537.53 L303.53 537.04 L304.29 536.5 L305.05 535.94 L305.8 535.4 L306.56 534.91 L307.32 534.49 L308.08 534.18 L308.84 534.01 L309.59 534.01 L310.35 534.25 L311.11 534.83 L311.87 535.87 L312.63 537.42 L313.38 539.43 L314.14 541.83 L314.9 544.54 L315.66 547.46 L316.42 550.53 L317.17 553.66 L317.93 556.77 L318.69 559.77 L319.45 562.6 L320.21 565.16 L320.97 567.37 L321.72 569.16 L322.48 570.45 L323.24 571.15 L324 571.28 L324.76 570.98 L325.51 570.31 L326.27 569.32 L327.03 568.07 L327.79 566.6 L328.55 564.97 L329.3 563.22 L330.06 561.41 L330.82 559.59 L331.58 557.8 L332.34 556.09 L333.09 554.53 L333.85 553.15 L334.61 552 L335.37 551.07 L336.13 550.33 L336.88 549.75 L337.64 549.29 L338.4 548.92 L339.16 548.61 L339.92 548.32 L340.67 548.03 L341.43 547.7 L342.19 547.3 L342.95 546.79 L343.71 546.15 L344.46 545.34 L345.22 544.32 L345.98 543.09 L346.74 541.68 L347.5 540.11 L348.26 538.43 L349.01 536.66 L349.77 534.85 L350.53 533.03 L351.29 531.23 L352.05 529.49 L352.8 527.85 L353.56 526.33 L354.32 524.98 L355.08 523.83 L355.84 522.91 L356.59 522.26 L357.35 521.86 L358.11 521.67 L358.87 521.64 L359.63 521.74 L360.38 521.94 L361.14 522.22 L361.9 522.55 L362.66 522.9 L363.42 523.26 L364.17 523.58 L364.93 523.86 L365.69 524.05 L366.45 524.15 L367.21 524.11 L367.96 523.94 L368.72 523.64 L369.48 523.26 L370.24 522.83 L371 522.39 L371.75 521.97 L372.51 521.61 L373.27 521.35 L374.03 521.23 L374.79 521.27 L375.55 521.53 L376.3 522.07 L377.06 522.98 L377.82 524.31 L378.58 526.15 L379.34 528.49 L380.09 531.26 L380.85 534.38 L381.61 537.75 L382.37 541.31 L383.13 544.96 L383.88 548.61 L384.64 552.19 L385.4 555.61 L386.16 558.78 L386.92 561.63 L387.67 564.06 L388.43 565.99 L389.19 567.34 L389.95 568.04 L390.71 568.12 L391.46 567.68 L392.22 566.78 L392.98 565.48 L393.74 563.85 L394.5 561.94 L395.25 559.83 L396.01 557.55 L396.77 555.19 L397.53 552.8 L398.29 550.43 L399.04 548.16 L399.8 546.04 L400.56 544.14 L401.32 542.49 L402.08 541.09 L402.84 539.91 L403.59 538.94 L404.35 538.17 L405.11 537.56 L405.87 537.11 L406.63 536.79 L407.38 536.6 L408.14 536.5 L408.9 536.48 L409.66 536.53 L410.42 536.62 L411.17 536.74 L411.93 536.86 L412.69 536.99 L413.45 537.11 L414.21 537.23 L414.96 537.34 L415.72 537.44 L416.48 537.53 L417.24 537.61 L418 537.68 L418.75 537.73 L419.51 537.76 L420.27 537.78 L421.03 537.77 L421.79 537.74 L422.54 537.69 L423.3 537.61 L424.06 537.51 L424.82 537.39 L425.58 537.25 L426.33 537.09 L427.09 536.93 L427.85 536.76 L428.61 536.6 L429.37 536.5 L430.13 536.52 L430.88 536.7 L431.64 537.11 L432.4 537.8 L433.16 538.83 L433.92 540.23 L434.67 542.03 L435.43 544.15 L436.19 546.5 L436.95 549.01 L437.71 551.6 L438.46 554.19 L439.22 556.69 L439.98 559.03 L440.74 561.13 L441.5 562.9 L442.25 564.26 L443.01 565.14 L443.77 565.46 L444.53 565.13 L445.29 564.08 L446.04 562.34 L446.8 559.97 L447.56 557.05 L448.32 553.64 L449.08 549.82 L449.83 545.67 L450.59 541.25 L451.35 536.63 L452.11 531.89 L452.87 527.11 L453.62 522.34 L454.38 517.67 L455.14 513.17 L455.9 508.9 L456.66 504.93 L457.42 501.27 L458.17 497.94 L458.93 494.93 L459.69 492.25 L460.45 489.93 L461.21 487.96 L461.96 486.34 L462.72 485.1 L463.48 484.24 L464.24 483.76 L465 483.68 L465.75 484.08 L466.51 485.1 L467.27 486.93 L468.03 489.57 L468.79 492.95 L469.54 496.95 L470.3 501.48 L471.06 506.42 L471.82 511.67 L472.58 517.13 L473.33 522.7 L474.09 528.27 L474.85 533.73 L475.61 538.98 L476.37 543.92 L477.12 548.45 L477.88 552.46 L478.64 555.85 L479.4 558.66 L480.16 560.93 L480.91 562.72 L481.67 564.07 L482.43 565.05 L483.19 565.7 L483.95 566.08 L484.71 566.24 L485.46 566.23 L486.22 566.11 L486.98 565.87 L487.74 565.48 L488.5 564.91 L489.25 564.11 L490.01 563.09 L490.77 561.88 L491.53 560.52 L492.29 559.07 L493.04 557.55 L493.8 556.02 L494.56 554.52 L495.32 553.1 L496.08 551.79 L496.83 550.65 L497.59 549.71 L498.35 549.03 L499.11 548.64 L499.87 548.59 L500.62 548.91 L501.38 549.59 L502.14 550.58 L502.9 551.81 L503.66 553.23 L504.41 554.79 L505.17 556.41 L505.93 558.06 L506.69 559.66 L507.45 561.17 L508.2 562.52 L508.96 563.66 L509.72 564.53 L510.48 565.08 L511.24 565.24 L512 564.98 L512.75 564.33 L513.51 563.33 L514.27 562.02 L515.03 560.45 L515.79 558.65 L516.54 556.67 L517.3 554.55 L518.06 552.34 L518.82 550.07 L519.58 547.79 L520.33 545.55 L521.09 543.37 L521.85 541.31 L522.61 539.41 L523.37 537.68 L524.12 536.12 L524.88 534.71 L525.64 533.44 L526.4 532.3 L527.16 531.27 L527.91 530.36 L528.67 529.53 L529.43 528.79 L530.19 528.12 L530.95 527.51 L531.7 526.95 L532.46 526.42 L533.22 525.91 L533.98 525.42 L534.74 524.95 L535.49 524.53 L536.25 524.17 L537.01 523.88 L537.77 523.7 L538.53 523.63 L539.29 523.68 L540.04 523.85 L540.8 524.12 L541.56 524.5 L542.32 525 L543.08 525.6 L543.83 526.3 L544.59 527.11 L545.35 528.01 L546.11 528.99 L546.87 530.04 L547.62 531.12 L548.38 532.24 L549.14 533.36 L549.9 534.47 L550.66 535.55 L551.41 536.59 L552.17 537.56 L552.93 538.46 L553.69 539.25 L554.45 539.92 L555.2 540.46 L555.96 540.85 L556.72 541.07 L557.48 541.13 L558.24 541.01 L558.99 540.72 L559.75 540.24 L560.51 539.58 L561.27 538.72 L562.03 537.67 L562.78 536.41 L563.54 534.95 L564.3 533.27 L565.06 531.38 L565.82 529.26 L566.58 526.92" fill="none" stroke="#000" stroke-width="1.1" stroke-linejoin="round" stroke-linecap="butt"/>
<g fill="#000">
<circle cx="112.5" cy="544.81" r="0.95"/>
<circle cx="123.58" cy="554.48" r="0.95"/>
<circle cx="134.65" cy="564.9" r="0.95"/>
<circle cx="145.72" cy="548.65" r="0.95"/>
<circle cx="156.8" cy="528.77" r="0.95"/>
<circle cx="167.88" cy="548.79" r="0.95"/>
<circle cx="178.95" cy="609.66" r="0.95"/>
<circle cx="190.02" cy="552.35" r="0.95"/>
<circle cx="201.1" cy="564.69" r="0.95"/>
<circle cx="212.18" cy="549.13" r="0.95"/>
<circle cx="223.25" cy="535.83" r="0.95"/>
<circle cx="234.32" cy="552.56" r="0.95"/>
<circle cx="245.4" cy="563.05" r="0.95"/>
<circle cx="256.48" cy="543.99" r="0.95"/>
<circle cx="267.55" cy="558.25" r="0.95"/>
<circle cx="278.62" cy="542.48" r="0.95"/>
<circle cx="289.7" cy="537" r="0.95"/>
<circle cx="300.77" cy="540.22" r="0.95"/>
<circle cx="311.85" cy="533.57" r="0.95"/>
<circle cx="322.92" cy="575.87" r="0.95"/>
<circle cx="334" cy="550.02" r="0.95"/>
<circle cx="345.07" cy="547.83" r="0.95"/>
<circle cx="356.15" cy="518.22" r="0.95"/>
<circle cx="367.23" cy="529.6" r="0.95"/>
<circle cx="378.3" cy="521.23" r="0.95"/>
<circle cx="389.38" cy="572.85" r="0.95"/>
<circle cx="400.45" cy="543.17" r="0.95"/>
<circle cx="411.52" cy="537.68" r="0.95"/>
<circle cx="422.6" cy="539.74" r="0.95"/>
<circle cx="433.67" cy="538.71" r="0.95"/>
<circle cx="444.75" cy="568.12" r="0.95"/>
<circle cx="455.82" cy="508.35" r="0.95"/>
<circle cx="466.9" cy="485.93" r="0.95"/>
<circle cx="477.97" cy="552.56" r="0.95"/>
<circle cx="489.05" cy="564.42" r="0.95"/>
<circle cx="500.12" cy="547.42" r="0.95"/>
<circle cx="511.2" cy="568.53" r="0.95"/>
<circle cx="522.27" cy="539.74" r="0.95"/>
<circle cx="533.35" cy="526.92" r="0.95"/>
<circle cx="544.42" cy="526.92" r="0.95"/>
<circle cx="555.5" cy="539.74" r="0.95"/>
<circle cx="566.58" cy="526.72" r="0.95"/>
</g>
<text x="129.11" y="639.32" font-size="7" fill="#111" text-anchor="start" textLength="35.56" lengthAdjust="spacingAndGlyphs">Mon 22-07</text>
<text x="195.56" y="639.32" font-size="7" fill="#111" text-anchor="start" textLength="32.89" lengthAdjust="spacingAndGlyphs">Tue 23-07</text>
<text x="262.01" y="639.32" font-size="7" fill="#111" text-anchor="start" textLength="36.04" lengthAdjust="spacingAndGlyphs">Wed 24-07</text>
<text x="328.46" y="639.32" font-size="7" fill="#111" text-anchor="start" textLength="36.77" lengthAdjust="spacingAndGlyphs">Thur 25-07</text>
<text x="394.91" y="639.32" font-size="7" fill="#111" text-anchor="start" textLength="29.45" lengthAdjust="spacingAndGlyphs">Fri 26-07</text>
<text x="461.36" y="639.32" font-size="7" fill="#111" text-anchor="start" textLength="32.44" lengthAdjust="spacingAndGlyphs">Sat 27-07</text>
<text x="527.81" y="639.32" font-size="7" fill="#111" text-anchor="start" textLength="34.19" lengthAdjust="spacingAndGlyphs">Sun 28-07</text>
<g stroke="#1a1a1a" stroke-width="0.75" fill="none">
<line x1="83.6" y1="468.7" x2="83.6" y2="647.45"/>
<line x1="83.25" y1="647.1" x2="607.2" y2="647.1"/>
</g>
<g stroke="#000" stroke-width="0.9" fill="none">
<line x1="80.3" y1="626.8" x2="83.6" y2="626.8"/>
<line x1="80.3" y1="592.52" x2="83.6" y2="592.52"/>
<line x1="80.3" y1="558.25" x2="83.6" y2="558.25"/>
<line x1="80.3" y1="523.98" x2="83.6" y2="523.98"/>
<line x1="80.3" y1="489.7" x2="83.6" y2="489.7"/>
<line x1="112.5" y1="647.1" x2="112.5" y2="650.4"/>
<line x1="123.58" y1="647.1" x2="123.58" y2="650.4"/>
<line x1="134.65" y1="647.1" x2="134.65" y2="650.4"/>
<line x1="145.72" y1="647.1" x2="145.72" y2="650.4"/>
<line x1="156.8" y1="647.1" x2="156.8" y2="650.4"/>
<line x1="167.88" y1="647.1" x2="167.88" y2="650.4"/>
<line x1="178.95" y1="647.1" x2="178.95" y2="650.4"/>
<line x1="190.02" y1="647.1" x2="190.02" y2="650.4"/>
<line x1="201.1" y1="647.1" x2="201.1" y2="650.4"/>
<line x1="212.18" y1="647.1" x2="212.18" y2="650.4"/>
<line x1="223.25" y1="647.1" x2="223.25" y2="650.4"/>
<line x1="234.32" y1="647.1" x2="234.32" y2="650.4"/>
<line x1="245.4" y1="647.1" x2="245.4" y2="650.4"/>
<line x1="256.48" y1="647.1" x2="256.48" y2="650.4"/>
<line x1="267.55" y1="647.1" x2="267.55" y2="650.4"/>
<line x1="278.62" y1="647.1" x2="278.62" y2="650.4"/>
<line x1="289.7" y1="647.1" x2="289.7" y2="650.4"/>
<line x1="300.77" y1="647.1" x2="300.77" y2="650.4"/>
<line x1="311.85" y1="647.1" x2="311.85" y2="650.4"/>
<line x1="322.92" y1="647.1" x2="322.92" y2="650.4"/>
<line x1="334" y1="647.1" x2="334" y2="650.4"/>
<line x1="345.07" y1="647.1" x2="345.07" y2="650.4"/>
<line x1="356.15" y1="647.1" x2="356.15" y2="650.4"/>
<line x1="367.23" y1="647.1" x2="367.23" y2="650.4"/>
<line x1="378.3" y1="647.1" x2="378.3" y2="650.4"/>
<line x1="389.38" y1="647.1" x2="389.38" y2="650.4"/>
<line x1="400.45" y1="647.1" x2="400.45" y2="650.4"/>
<line x1="411.52" y1="647.1" x2="411.52" y2="650.4"/>
<line x1="422.6" y1="647.1" x2="422.6" y2="650.4"/>
<line x1="433.67" y1="647.1" x2="433.67" y2="650.4"/>
<line x1="444.75" y1="647.1" x2="444.75" y2="650.4"/>
<line x1="455.82" y1="647.1" x2="455.82" y2="650.4"/>
<line x1="466.9" y1="647.1" x2="466.9" y2="650.4"/>
<line x1="477.97" y1="647.1" x2="477.97" y2="650.4"/>
<line x1="489.05" y1="647.1" x2="489.05" y2="650.4"/>
<line x1="500.12" y1="647.1" x2="500.12" y2="650.4"/>
<line x1="511.2" y1="647.1" x2="511.2" y2="650.4"/>
<line x1="522.27" y1="647.1" x2="522.27" y2="650.4"/>
<line x1="533.35" y1="647.1" x2="533.35" y2="650.4"/>
<line x1="544.42" y1="647.1" x2="544.42" y2="650.4"/>
<line x1="555.5" y1="647.1" x2="555.5" y2="650.4"/>
<line x1="566.58" y1="647.1" x2="566.58" y2="650.4"/>
</g>
<text x="77.2" y="629.85" font-size="8.72" fill="#262626" text-anchor="end" textLength="22.8" lengthAdjust="spacingAndGlyphs">−100</text>
<text x="77.2" y="595.57" font-size="8.72" fill="#262626" text-anchor="end" textLength="17.52" lengthAdjust="spacingAndGlyphs">−50</text>
<text x="77.2" y="561.3" font-size="8.72" fill="#262626" text-anchor="end">0</text>
<text x="77.2" y="527.02" font-size="8.72" fill="#262626" text-anchor="end" textLength="10.56" lengthAdjust="spacingAndGlyphs">50</text>
<text x="77.2" y="492.75" font-size="8.72" fill="#262626" text-anchor="end" textLength="15.84" lengthAdjust="spacingAndGlyphs">100</text>
<text transform="translate(114.85 654.3) rotate(-90)" font-size="8.72" fill="#262626" text-anchor="end" textLength="13.56" lengthAdjust="spacingAndGlyphs">0-4</text>
<text transform="translate(125.92 654.3) rotate(-90)" font-size="8.72" fill="#262626" text-anchor="end" textLength="13.56" lengthAdjust="spacingAndGlyphs">4-8</text>
<text transform="translate(137 654.3) rotate(-90)" font-size="8.72" fill="#262626" text-anchor="end" textLength="18.84" lengthAdjust="spacingAndGlyphs">8-12</text>
<text transform="translate(148.07 654.3) rotate(-90)" font-size="8.72" fill="#262626" text-anchor="end" textLength="24.12" lengthAdjust="spacingAndGlyphs">12-16</text>
<text transform="translate(159.15 654.3) rotate(-90)" font-size="8.72" fill="#262626" text-anchor="end" textLength="24.12" lengthAdjust="spacingAndGlyphs">16-20</text>
<text transform="translate(170.22 654.3) rotate(-90)" font-size="8.72" fill="#262626" text-anchor="end" textLength="18.84" lengthAdjust="spacingAndGlyphs">20-0</text>
<text transform="translate(181.3 654.3) rotate(-90)" font-size="8.72" fill="#262626" text-anchor="end" textLength="13.56" lengthAdjust="spacingAndGlyphs">0-4</text>
<text transform="translate(192.37 654.3) rotate(-90)" font-size="8.72" fill="#262626" text-anchor="end" textLength="13.56" lengthAdjust="spacingAndGlyphs">4-8</text>
<text transform="translate(203.45 654.3) rotate(-90)" font-size="8.72" fill="#262626" text-anchor="end" textLength="18.84" lengthAdjust="spacingAndGlyphs">8-12</text>
<text transform="translate(214.53 654.3) rotate(-90)" font-size="8.72" fill="#262626" text-anchor="end" textLength="24.12" lengthAdjust="spacingAndGlyphs">12-16</text>
<text transform="translate(225.6 654.3) rotate(-90)" font-size="8.72" fill="#262626" text-anchor="end" textLength="24.12" lengthAdjust="spacingAndGlyphs">16-20</text>
<text transform="translate(236.67 654.3) rotate(-90)" font-size="8.72" fill="#262626" text-anchor="end" textLength="18.84" lengthAdjust="spacingAndGlyphs">20-0</text>
<text transform="translate(247.75 654.3) rotate(-90)" font-size="8.72" fill="#262626" text-anchor="end" textLength="13.56" lengthAdjust="spacingAndGlyphs">0-4</text>
<text transform="translate(258.83 654.3) rotate(-90)" font-size="8.72" fill="#262626" text-anchor="end" textLength="13.56" lengthAdjust="spacingAndGlyphs">4-8</text>
<text transform="translate(269.9 654.3) rotate(-90)" font-size="8.72" fill="#262626" text-anchor="end" textLength="18.84" lengthAdjust="spacingAndGlyphs">8-12</text>
<text transform="translate(280.98 654.3) rotate(-90)" font-size="8.72" fill="#262626" text-anchor="end" textLength="24.12" lengthAdjust="spacingAndGlyphs">12-16</text>
<text transform="translate(292.05 654.3) rotate(-90)" font-size="8.72" fill="#262626" text-anchor="end" textLength="24.12" lengthAdjust="spacingAndGlyphs">16-20</text>
<text transform="translate(303.12 654.3) rotate(-90)" font-size="8.72" fill="#262626" text-anchor="end" textLength="18.84" lengthAdjust="spacingAndGlyphs">20-0</text>
<text transform="translate(314.2 654.3) rotate(-90)" font-size="8.72" fill="#262626" text-anchor="end" textLength="13.56" lengthAdjust="spacingAndGlyphs">0-4</text>
<text transform="translate(325.27 654.3) rotate(-90)" font-size="8.72" fill="#262626" text-anchor="end" textLength="13.56" lengthAdjust="spacingAndGlyphs">4-8</text>
<text transform="translate(336.35 654.3) rotate(-90)" font-size="8.72" fill="#262626" text-anchor="end" textLength="18.84" lengthAdjust="spacingAndGlyphs">8-12</text>
<text transform="translate(347.43 654.3) rotate(-90)" font-size="8.72" fill="#262626" text-anchor="end" textLength="24.12" lengthAdjust="spacingAndGlyphs">12-16</text>
<text transform="translate(358.5 654.3) rotate(-90)" font-size="8.72" fill="#262626" text-anchor="end" textLength="24.12" lengthAdjust="spacingAndGlyphs">16-20</text>
<text transform="translate(369.58 654.3) rotate(-90)" font-size="8.72" fill="#262626" text-anchor="end" textLength="18.84" lengthAdjust="spacingAndGlyphs">20-0</text>
<text transform="translate(380.65 654.3) rotate(-90)" font-size="8.72" fill="#262626" text-anchor="end" textLength="13.56" lengthAdjust="spacingAndGlyphs">0-4</text>
<text transform="translate(391.73 654.3) rotate(-90)" font-size="8.72" fill="#262626" text-anchor="end" textLength="13.56" lengthAdjust="spacingAndGlyphs">4-8</text>
<text transform="translate(402.8 654.3) rotate(-90)" font-size="8.72" fill="#262626" text-anchor="end" textLength="18.84" lengthAdjust="spacingAndGlyphs">8-12</text>
<text transform="translate(413.88 654.3) rotate(-90)" font-size="8.72" fill="#262626" text-anchor="end" textLength="24.12" lengthAdjust="spacingAndGlyphs">12-16</text>
<text transform="translate(424.95 654.3) rotate(-90)" font-size="8.72" fill="#262626" text-anchor="end" textLength="24.12" lengthAdjust="spacingAndGlyphs">16-20</text>
<text transform="translate(436.02 654.3) rotate(-90)" font-size="8.72" fill="#262626" text-anchor="end" textLength="18.84" lengthAdjust="spacingAndGlyphs">20-0</text>
<text transform="translate(447.1 654.3) rotate(-90)" font-size="8.72" fill="#262626" text-anchor="end" textLength="13.56" lengthAdjust="spacingAndGlyphs">0-4</text>
<text transform="translate(458.18 654.3) rotate(-90)" font-size="8.72" fill="#262626" text-anchor="end" textLength="13.56" lengthAdjust="spacingAndGlyphs">4-8</text>
<text transform="translate(469.25 654.3) rotate(-90)" font-size="8.72" fill="#262626" text-anchor="end" textLength="18.84" lengthAdjust="spacingAndGlyphs">8-12</text>
<text transform="translate(480.32 654.3) rotate(-90)" font-size="8.72" fill="#262626" text-anchor="end" textLength="24.12" lengthAdjust="spacingAndGlyphs">12-16</text>
<text transform="translate(491.4 654.3) rotate(-90)" font-size="8.72" fill="#262626" text-anchor="end" textLength="24.12" lengthAdjust="spacingAndGlyphs">16-20</text>
<text transform="translate(502.48 654.3) rotate(-90)" font-size="8.72" fill="#262626" text-anchor="end" textLength="18.84" lengthAdjust="spacingAndGlyphs">20-0</text>
<text transform="translate(513.55 654.3) rotate(-90)" font-size="8.72" fill="#262626" text-anchor="end" textLength="13.56" lengthAdjust="spacingAndGlyphs">0-4</text>
<text transform="translate(524.62 654.3) rotate(-90)" font-size="8.72" fill="#262626" text-anchor="end" textLength="13.56" lengthAdjust="spacingAndGlyphs">4-8</text>
<text transform="translate(535.7 654.3) rotate(-90)" font-size="8.72" fill="#262626" text-anchor="end" textLength="18.84" lengthAdjust="spacingAndGlyphs">8-12</text>
<text transform="translate(546.77 654.3) rotate(-90)" font-size="8.72" fill="#262626" text-anchor="end" textLength="24.12" lengthAdjust="spacingAndGlyphs">12-16</text>
<text transform="translate(557.85 654.3) rotate(-90)" font-size="8.72" fill="#262626" text-anchor="end" textLength="24.12" lengthAdjust="spacingAndGlyphs">16-20</text>
<text transform="translate(568.93 654.3) rotate(-90)" font-size="8.72" fill="#262626" text-anchor="end" textLength="18.84" lengthAdjust="spacingAndGlyphs">20-0</text>
<text x="345.4" y="686.9" font-size="8.72" fill="#262626" text-anchor="middle" textLength="100.67" lengthAdjust="spacingAndGlyphs">Time (period of the day)</text>
<text transform="translate(49.9 558.3) rotate(-90)" font-size="8.72" fill="#262626" text-anchor="middle" textLength="91.22" lengthAdjust="spacingAndGlyphs">Difference in calls (%)</text>
<rect x="523.1" y="473" width="79.8" height="26.6" rx="1.6" ry="1.6" fill="#fff" fill-opacity="0.8" stroke="#cccccc" stroke-opacity="0.8" stroke-width="0.7"/>
<circle cx="535" cy="480.5" r="0.9" fill="#000"/>
<line x1="526.3" y1="491.8" x2="543.5" y2="491.8" stroke="#222" stroke-width="1.15"/>
<text x="549.8" y="483" font-size="8.72" fill="#262626" text-anchor="start" textLength="39.23" lengthAdjust="spacingAndGlyphs">Real data</text>
<text x="549.8" y="494.7" font-size="8.72" fill="#262626" text-anchor="start" textLength="50.4" lengthAdjust="spacingAndGlyphs">Cubic spline</text>
<defs><linearGradient id="gc" x1="0" y1="1" x2="0" y2="0"><stop offset="0" stop-color="#4e5ec6"/><stop offset="0.04" stop-color="#596ed4"/><stop offset="0.08" stop-color="#657ee1"/><stop offset="0.12" stop-color="#728fec"/><stop offset="0.17" stop-color="#7e9cf4"/><stop offset="0.21" stop-color="#8babfa"/><stop offset="0.25" stop-color="#99b8fe"/><stop offset="0.29" stop-color="#a5c2ff"/><stop offset="0.33" stop-color="#b3ccfd"/><stop offset="0.38" stop-color="#c0d5f9"/><stop offset="0.42" stop-color="#cbdaf3"/><stop offset="0.46" stop-color="#d6deeb"/><stop offset="0.5" stop-color="#e1e0df"/><stop offset="0.54" stop-color="#e9dbd3"/><stop offset="0.58" stop-color="#f1d3c4"/><stop offset="0.62" stop-color="#f6cab4"/><stop offset="0.67" stop-color="#f8bfa6"/><stop offset="0.71" stop-color="#f8b296"/><stop offset="0.75" stop-color="#f5a387"/><stop offset="0.79" stop-color="#f09479"/><stop offset="0.83" stop-color="#e9826b"/><stop offset="0.88" stop-color="#e06f5d"/><stop offset="0.92" stop-color="#d65b52"/><stop offset="0.96" stop-color="#c94346"/><stop offset="1" stop-color="#bb1d3c"/></linearGradient></defs>
<rect x="640.2" y="468.7" width="8.8" height="178.4" fill="url(#gc)" stroke="#1a1a1a" stroke-width="0.75"/>
<g stroke="#000" stroke-width="0.9">
<line x1="649" y1="630.3" x2="652.2" y2="630.3"/>
<line x1="649" y1="609.11" x2="652.2" y2="609.11"/>
<line x1="649" y1="587.93" x2="652.2" y2="587.93"/>
<line x1="649" y1="566.74" x2="652.2" y2="566.74"/>
<line x1="649" y1="545.56" x2="652.2" y2="545.56"/>
<line x1="649" y1="524.37" x2="652.2" y2="524.37"/>
<line x1="649" y1="503.19" x2="652.2" y2="503.19"/>
<line x1="649" y1="482" x2="652.2" y2="482"/>
</g>
<text x="654.7" y="633.35" font-size="8.72" fill="#262626" text-anchor="start" textLength="18.48" lengthAdjust="spacingAndGlyphs">17.5</text>
<text x="654.7" y="612.16" font-size="8.72" fill="#262626" text-anchor="start" textLength="18.48" lengthAdjust="spacingAndGlyphs">20.0</text>
<text x="654.7" y="590.98" font-size="8.72" fill="#262626" text-anchor="start" textLength="18.48" lengthAdjust="spacingAndGlyphs">22.5</text>
<text x="654.7" y="569.79" font-size="8.72" fill="#262626" text-anchor="start" textLength="18.48" lengthAdjust="spacingAndGlyphs">25.0</text>
<text x="654.7" y="548.61" font-size="8.72" fill="#262626" text-anchor="start" textLength="18.48" lengthAdjust="spacingAndGlyphs">27.5</text>
<text x="654.7" y="527.42" font-size="8.72" fill="#262626" text-anchor="start" textLength="18.48" lengthAdjust="spacingAndGlyphs">30.0</text>
<text x="654.7" y="506.24" font-size="8.72" fill="#262626" text-anchor="start" textLength="18.48" lengthAdjust="spacingAndGlyphs">32.5</text>
<text x="654.7" y="485.05" font-size="8.72" fill="#262626" text-anchor="start" textLength="18.48" lengthAdjust="spacingAndGlyphs">35.0</text>
<text transform="translate(682.2 557.9) rotate(-90)" font-size="8.72" fill="#262626" text-anchor="middle" textLength="104.06" lengthAdjust="spacingAndGlyphs">Median temperature (°C)</text>
<text font-size="22.5" font-weight="bold" fill="#000" x="0.2" y="490">(c)</text>
</svg>
</body></html>
